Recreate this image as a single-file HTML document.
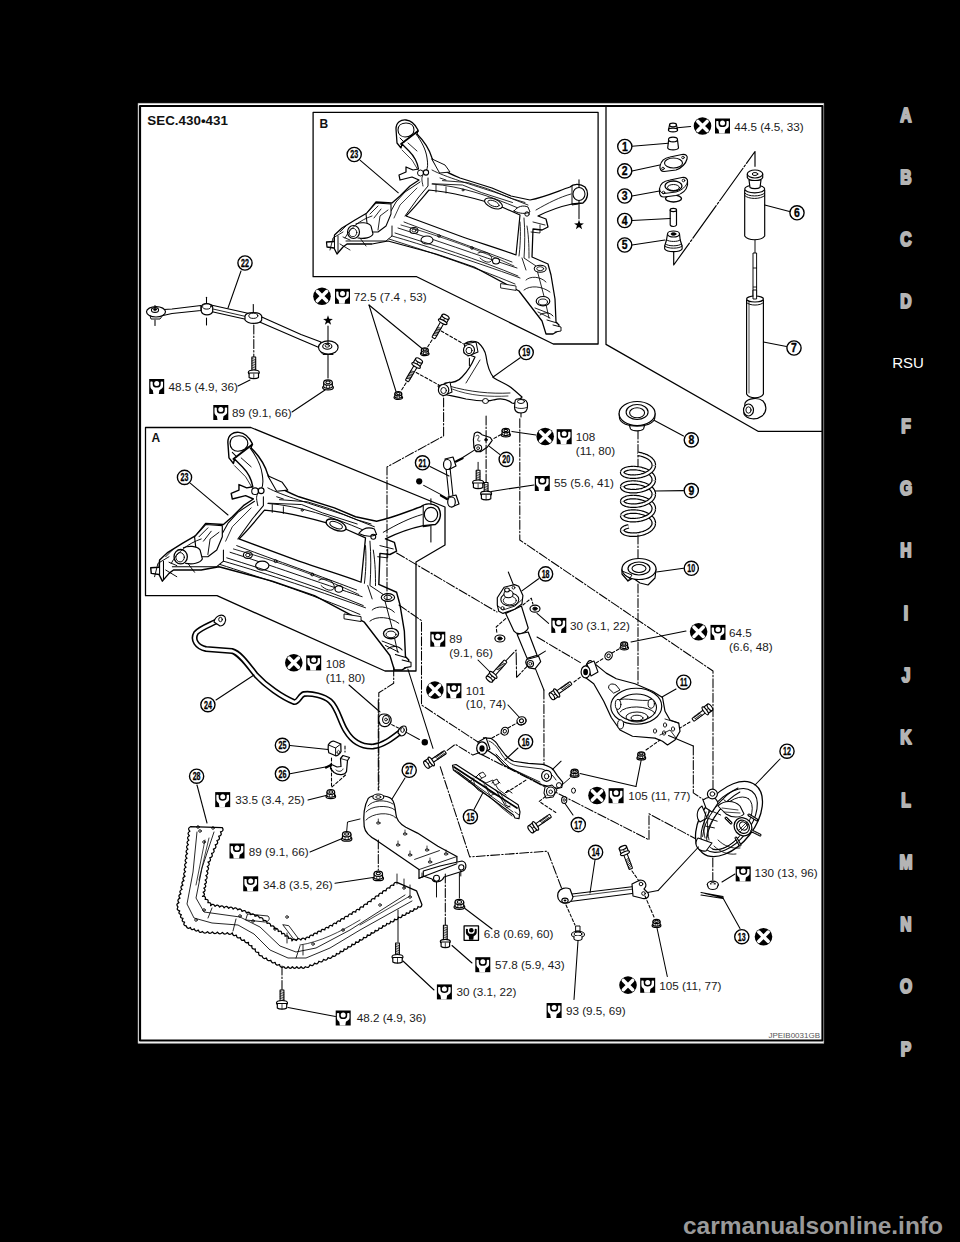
<!DOCTYPE html>
<html><head><meta charset="utf-8"><style>
html,body{margin:0;padding:0;background:#000;width:960px;height:1242px;overflow:hidden}
svg{position:absolute;left:0;top:0}
.t{font-family:"Liberation Sans",sans-serif;font-size:11.7px;fill:#1a1a1a;stroke:none}
.cn{font-family:"Liberation Sans",sans-serif;font-size:12.3px;font-weight:bold;text-anchor:middle;fill:#000;stroke:#000;stroke-width:0.35}
.cn2{font-family:"Liberation Sans",sans-serif;font-size:11.5px;font-weight:bold;text-anchor:middle;fill:#000;stroke:#000;stroke-width:0.3}
.idx{font-family:"Liberation Sans",sans-serif;font-size:20px;font-weight:bold;text-anchor:middle;fill:#b4b4b4;stroke:#b4b4b4;stroke-width:2.2}
</style></head><body>
<svg width="960" height="1242" viewBox="0 0 960 1242">
<defs>
<g id="xi"><circle r="8.8" fill="#000" stroke="none"/><path d="M-4.6,-4.6 L4.6,4.6 M4.6,-4.6 L-4.6,4.6" stroke="#fff" stroke-width="3.6" stroke-linecap="round"/></g>
<g id="wr"><rect x="0" y="0" width="15" height="15" fill="#000" stroke="none"/><path fill="#fff" stroke="none" d="M1.2,3.2 C1.2,2.4 3.5,2.4 3.5,3.2 L3.5,5.2 C3.5,7.9 5.3,8.6 7.5,8.6 C9.7,8.6 11.5,7.9 11.5,5.2 L11.5,3.2 C11.5,2.4 13.8,2.4 13.8,3.2 L13.8,7.2 C13.8,9.6 11.2,10.2 10.2,11.2 L9.6,15 L4.2,15 L3.6,11.2 C2.6,10.2 1.2,9.4 1.2,7.2 Z"/><circle cx="7.5" cy="4.6" r="2.5" fill="#fff" stroke="none"/></g>
<g id="wrf"><rect x="0.6" y="0.6" width="14.4" height="14.4" fill="#fff" stroke="#000" stroke-width="1.3"/><path fill="#000" stroke="none" d="M2.4,4 C2.4,3.3 4.4,3.3 4.4,4 L4.4,5.6 C4.4,7.8 5.8,8.4 7.8,8.4 C9.8,8.4 11.2,7.8 11.2,5.6 L11.2,4 C11.2,3.3 13.2,3.3 13.2,4 L13.2,7.4 C13.2,9.4 11,10 10.2,11 L9.8,14.4 L5.6,14.4 L5.2,11 C4.4,10 2.4,9.4 2.4,7.4 Z"/><circle cx="7.8" cy="4.9" r="2.3" fill="#000" stroke="none"/></g>
</defs>
<g stroke="#000" stroke-linejoin="round" stroke-linecap="round">
<rect x="138" y="103" width="686" height="940.5" fill="#fff" stroke="none"/>
<rect x="140" y="106" width="682.5" height="934.5" fill="none" stroke="#000" stroke-width="2.2"/>
<rect x="138.3" y="103.3" width="685.5" height="940" fill="none" stroke="#777" stroke-width="0.6"/>
<text x="906" y="121.6" class="idx" transform="translate(906,0) scale(0.78,1) translate(-906,0)">A</text>
<text x="906" y="183.9" class="idx" transform="translate(906,0) scale(0.78,1) translate(-906,0)">B</text>
<text x="906" y="246.1" class="idx" transform="translate(906,0) scale(0.78,1) translate(-906,0)">C</text>
<text x="906" y="308.4" class="idx" transform="translate(906,0) scale(0.78,1) translate(-906,0)">D</text>
<text x="908" y="367.9" style="font-family:'Liberation Sans',sans-serif;font-size:15px;fill:#fff;stroke:none;text-anchor:middle">RSU</text>
<text x="906" y="432.9" class="idx" transform="translate(906,0) scale(0.78,1) translate(-906,0)">F</text>
<text x="906" y="495.2" class="idx" transform="translate(906,0) scale(0.78,1) translate(-906,0)">G</text>
<text x="906" y="557.5" class="idx" transform="translate(906,0) scale(0.78,1) translate(-906,0)">H</text>
<text x="906" y="619.8" class="idx" transform="translate(906,0) scale(0.78,1) translate(-906,0)">I</text>
<text x="906" y="682" class="idx" transform="translate(906,0) scale(0.78,1) translate(-906,0)">J</text>
<text x="906" y="744.3" class="idx" transform="translate(906,0) scale(0.78,1) translate(-906,0)">K</text>
<text x="906" y="806.6" class="idx" transform="translate(906,0) scale(0.78,1) translate(-906,0)">L</text>
<text x="906" y="868.8" class="idx" transform="translate(906,0) scale(0.78,1) translate(-906,0)">M</text>
<text x="906" y="931.1" class="idx" transform="translate(906,0) scale(0.78,1) translate(-906,0)">N</text>
<text x="906" y="993.4" class="idx" transform="translate(906,0) scale(0.78,1) translate(-906,0)">O</text>
<text x="906" y="1055.7" class="idx" transform="translate(906,0) scale(0.78,1) translate(-906,0)">P</text>
<text x="943" y="1234" style="font-family:'Liberation Sans',sans-serif;font-size:24.5px;font-weight:bold;fill:#9a9a9a;stroke:none;text-anchor:end">carmanualsonline.info</text>
<text x="147.3" y="124.6" style="font-family:'Liberation Sans',sans-serif;font-size:13.4px;font-weight:bold;fill:#111;stroke:none">SEC.430•431</text>
<text x="820" y="1038" style="font-family:'Liberation Sans',sans-serif;font-size:8px;fill:#555;stroke:none;text-anchor:end">JPEIB0031GB</text>
<polyline points="313.1,112.3 598.1,112.3 598.1,344 553.3,344 416.7,276.7 313.1,276.7 313.1,112.3" fill="none" stroke-width="1.27" />
<polyline points="606,107 606,344.4 758,431.3 822,431.3" fill="none" stroke-width="1.27" />
<polyline points="145.5,427.5 250.8,427.5 445,507 445,545 416,562 416,671 385,671 217,595.7 145.5,595.7 145.5,427.5" fill="none" stroke-width="1.27" />
<text x="319.6" y="128.3" style="font-family:'Liberation Sans',sans-serif;font-size:12px;font-weight:bold;fill:#111;stroke:none">B</text>
<text x="151.4" y="442.2" style="font-family:'Liberation Sans',sans-serif;font-size:12px;font-weight:bold;fill:#111;stroke:none">A</text>
<g><path d="M396,129 C396,122 401,119.5 406,120 C411,120.5 415,124 418,130 L417,134 C423,140 429,148 432,158 C435,166 443,171 460,178 L492,188 L511,196 L530,200 C545,197 558,191 570,187 C573,184 580,183 585,187 C589,192 588,199 583,203 L572,204 C558,207 546,212 538,216 L546,219 L548,227 L542,230 L533,229 L532,257 L548,264 L551,275 L555,299 L556,322 L559,325 L558,331 L553,334 L546,334 L542,321 L519,291 L474,267 L436,254 L388,241 L372,244 L347,244 L343,247 L337,254 L334,248 L327,247 L326.5,242 L334,241.5 L334.5,235 L342,228 L355,220 L367,213 L376,202 L392,203 L400,196 L410,186 L419,180 L412,177 L400,180 L399,175 L406,172 L406,167 L413,170 L418.5,169 C417,160 413,155 409,151 L402,144 L401,148 L397,143 Z" fill="#fff" stroke-width="1.27"/><path d="M429,190 C450,192 480,199 502,207 L520,215 L516,255 C500,249 480,243 460,236 L406,216 C415,207 423,197 429,190 Z" fill="#fff" stroke-width="1.17"/><path d="M398,130 C398,125 402,123 406,123 C411,123 414,126 414,130 C414,134 410,137 405,137 C401,137 398,134 398,130 Z" fill="#fff" stroke-width="1.06"/><path d="M401,144 L418,131" fill="none" stroke-width="1.70"/><path d="M400,138 L404,142" fill="none" stroke-width="0.95"/><path d="M416,134 C422,142 426,150 427,158 C428,164 428,168 426,171" fill="none" stroke-width="0.95"/><path d="M408,143 L417,151" fill="none" stroke-width="0.85"/><circle cx="426" cy="172.5" r="2.6" fill="#fff" stroke-width="1.06"/><circle cx="420.5" cy="173" r="3" fill="none" stroke-width="0.95"/><path d="M428,178 L428,186 L418,198 L405,216" fill="none" stroke-width="0.95"/><path d="M420,182 L405,192 L396,202 L391,211" fill="none" stroke-width="0.95"/><path d="M423,186 C422,181 421,178 423,175" fill="none" stroke-width="0.85"/><path d="M432,170 C445,177 470,184 500,194 L528,205" fill="none" stroke-width="0.85"/><path d="M440,178 L446,180" fill="none" stroke-width="0.85"/><path d="M432,184 C460,186 490,196 518,208" fill="none" stroke-width="0.85"/><path d="M436,185 L436,192 M446,187 L446,193" fill="none" stroke-width="0.85"/><ellipse cx="493.5" cy="203.5" rx="9.5" ry="4.5" transform="rotate(22 493.5 203.5)" fill="#fff" stroke-width="1.17"/><ellipse cx="493.5" cy="203.5" rx="6" ry="2.6" transform="rotate(22 493.5 203.5)" fill="none" stroke-width="0.85"/><circle cx="463" cy="190" r="1" fill="none" stroke-width="0.85"/><path d="M432,159 L445,165 L450,172 L440,173 Z" fill="#fff" stroke-width="0.95"/><path d="M514,211 C518,206 523,205 528,207 L530,212 C526,214 520,214 514,211 Z" fill="#fff" stroke-width="0.95"/><circle cx="527" cy="214" r="2.2" fill="none" stroke-width="0.95"/><path d="M536,210 C548,203 560,197 571,194" fill="none" stroke-width="0.85"/><ellipse cx="579" cy="194" rx="6" ry="6.5" fill="#fff" stroke-width="1.06"/><path d="M572,186 L572,205 L578,204" fill="none" stroke-width="0.95"/><path d="M524,218 C525,230 525,245 524,258 L536,266 L545,300 L549,318" fill="none" stroke-width="0.85"/><path d="M522,258 L526,270" fill="none" stroke-width="0.85"/><path d="M540,315 C544,312 550,312 553,316 M547,320 L557,323" fill="none" stroke-width="0.95"/><path d="M553,325 L561,327 L561,331 L555,332" fill="#fff" stroke-width="0.95"/><path d="M404,222 C430,232 470,246 512,262" fill="none" stroke-width="0.85"/><path d="M398,228 C430,238 480,256 517,268" fill="none" stroke-width="0.85"/><path d="M392,236 C420,244 470,260 520,278" fill="none" stroke-width="0.85"/><ellipse cx="414" cy="230.5" rx="4" ry="3" fill="#fff" stroke-width="1.06"/><ellipse cx="414" cy="230.5" rx="2" ry="1.5" fill="none" stroke-width="0.85"/><ellipse cx="427" cy="240" rx="6" ry="4" fill="#fff" stroke-width="1.06"/><circle cx="439" cy="236" r="1.3" fill="none" stroke-width="0.85"/><circle cx="472" cy="248" r="1.3" fill="none" stroke-width="0.85"/><path d="M478,253 C485,250 492,254 492,260 C490,264 484,262 480,258" fill="none" stroke-width="0.85"/><ellipse cx="496" cy="261" rx="3.5" ry="3" fill="#fff" stroke-width="1.06"/><path d="M366,214 L376,203 L391,204 L391,214 L386,226 L378,232 L368,232 Z" fill="#fff" stroke-width="1.06"/><path d="M370,214 L378,206 M374,218 L381,209 M378,230 L380,216 L388,210" fill="none" stroke-width="0.85"/><path d="M356,224 C360,222 368,222 371,226 L373,234 C371,238 364,239 358,238" fill="#fff" stroke-width="1.06"/><ellipse cx="353.5" cy="232" rx="6" ry="6.5" fill="#fff" stroke-width="1.17"/><ellipse cx="353" cy="232.5" rx="3.8" ry="4.2" fill="none" stroke-width="0.85"/><path d="M334.5,236 L334.5,248 M338,236 L338,252" fill="none" stroke-width="0.95"/><path d="M346,241 L386,241 L392,236 L392,226" fill="none" stroke-width="0.95"/><path d="M340,232 L346,226 M343,237 L350,240" fill="none" stroke-width="0.85"/><path d="M442.5,180.6 L467.5,182.5 L487.5,188.75 L512.5,198.75 L525,202.5" fill="none" stroke-width="0.85"/><path d="M432.5,183.75 L462.5,185 L481.25,192.5 L512.5,202.5" fill="none" stroke-width="0.85"/><path d="M395,233 C430,244 480,260 518,276" fill="none" stroke-width="0.85"/><path d="M389,239 C420,249 470,265 515,284" fill="none" stroke-width="0.85"/><path d="M401,225 C440,236 480,250 514,266" fill="none" stroke-width="0.74"/><path d="M520,222 C521,235 520,248 519,256 M527,226 C529,238 529,250 529,258" fill="none" stroke-width="0.85"/><path d="M533,222 L545,225 M531,232 L540,233 L540,225" fill="none" stroke-width="0.85"/><ellipse cx="540.2" cy="268.7" rx="6" ry="3.5" fill="#fff" stroke-width="1.06"/><ellipse cx="540.2" cy="268.7" rx="3.5" ry="2" fill="none" stroke-width="0.85"/><path d="M526,280 C530,276 540,276 546,282 M524,290 C530,285 542,286 550,292" fill="none" stroke-width="0.85"/><ellipse cx="543" cy="301.2" rx="6.8" ry="4.7" fill="#fff" stroke-width="1.17"/><ellipse cx="543" cy="302" rx="4.5" ry="3" fill="none" stroke-width="0.85"/><path d="M535,308 L548,313 M538,312 L550,318" fill="none" stroke-width="0.85"/><path d="M501,283.6 L516,286 L516,290.4 L501,288 Z" fill="#fff" stroke-width="0.85"/><path d="M345,238 C350,228 360,220 372,216 M340,244 L350,250 M360,238 L366,246" fill="none" stroke-width="0.85"/><path d="M330,250 L333,238 L343,232" fill="none" stroke-width="0.85"/><path d="M402,150 L412,160 L418,170" fill="none" stroke-width="0.74"/><path d="M417,188 L400,205 L394,218" fill="none" stroke-width="0.74"/></g>
<line x1="360.3" y1="160.3" x2="398.3" y2="192.8" stroke-width="1.06" />
<line x1="190.5" y1="483.3" x2="228" y2="515" stroke-width="1.06" />
<line x1="430.9" y1="498.8" x2="430.9" y2="507" stroke-width="1.06" />
<line x1="430.9" y1="522.3" x2="430.9" y2="542" stroke-width="1.06" />
<g transform="translate(-211.7,299.2) scale(1.11)"><path d="M396,129 C396,122 401,119.5 406,120 C411,120.5 415,124 418,130 L417,134 C423,140 429,148 432,158 C435,166 443,171 460,178 L492,188 L511,196 L530,200 C545,197 558,191 570,187 C573,184 580,183 585,187 C589,192 588,199 583,203 L572,204 C558,207 546,212 538,216 L546,219 L548,227 L542,230 L533,229 L532,257 L548,264 L551,275 L555,299 L556,322 L559,325 L558,331 L553,334 L546,334 L542,321 L519,291 L474,267 L436,254 L388,241 L372,244 L347,244 L343,247 L337,254 L334,248 L327,247 L326.5,242 L334,241.5 L334.5,235 L342,228 L355,220 L367,213 L376,202 L392,203 L400,196 L410,186 L419,180 L412,177 L400,180 L399,175 L406,172 L406,167 L413,170 L418.5,169 C417,160 413,155 409,151 L402,144 L401,148 L397,143 Z" fill="#fff" stroke-width="1.27"/><path d="M429,190 C450,192 480,199 502,207 L520,215 L516,255 C500,249 480,243 460,236 L406,216 C415,207 423,197 429,190 Z" fill="#fff" stroke-width="1.17"/><path d="M398,130 C398,125 402,123 406,123 C411,123 414,126 414,130 C414,134 410,137 405,137 C401,137 398,134 398,130 Z" fill="#fff" stroke-width="1.06"/><path d="M401,144 L418,131" fill="none" stroke-width="1.70"/><path d="M400,138 L404,142" fill="none" stroke-width="0.95"/><path d="M416,134 C422,142 426,150 427,158 C428,164 428,168 426,171" fill="none" stroke-width="0.95"/><path d="M408,143 L417,151" fill="none" stroke-width="0.85"/><circle cx="426" cy="172.5" r="2.6" fill="#fff" stroke-width="1.06"/><circle cx="420.5" cy="173" r="3" fill="none" stroke-width="0.95"/><path d="M428,178 L428,186 L418,198 L405,216" fill="none" stroke-width="0.95"/><path d="M420,182 L405,192 L396,202 L391,211" fill="none" stroke-width="0.95"/><path d="M423,186 C422,181 421,178 423,175" fill="none" stroke-width="0.85"/><path d="M432,170 C445,177 470,184 500,194 L528,205" fill="none" stroke-width="0.85"/><path d="M440,178 L446,180" fill="none" stroke-width="0.85"/><path d="M432,184 C460,186 490,196 518,208" fill="none" stroke-width="0.85"/><path d="M436,185 L436,192 M446,187 L446,193" fill="none" stroke-width="0.85"/><ellipse cx="493.5" cy="203.5" rx="9.5" ry="4.5" transform="rotate(22 493.5 203.5)" fill="#fff" stroke-width="1.17"/><ellipse cx="493.5" cy="203.5" rx="6" ry="2.6" transform="rotate(22 493.5 203.5)" fill="none" stroke-width="0.85"/><circle cx="463" cy="190" r="1" fill="none" stroke-width="0.85"/><path d="M432,159 L445,165 L450,172 L440,173 Z" fill="#fff" stroke-width="0.95"/><path d="M514,211 C518,206 523,205 528,207 L530,212 C526,214 520,214 514,211 Z" fill="#fff" stroke-width="0.95"/><circle cx="527" cy="214" r="2.2" fill="none" stroke-width="0.95"/><path d="M536,210 C548,203 560,197 571,194" fill="none" stroke-width="0.85"/><ellipse cx="579" cy="194" rx="6" ry="6.5" fill="#fff" stroke-width="1.06"/><path d="M572,186 L572,205 L578,204" fill="none" stroke-width="0.95"/><path d="M524,218 C525,230 525,245 524,258 L536,266 L545,300 L549,318" fill="none" stroke-width="0.85"/><path d="M522,258 L526,270" fill="none" stroke-width="0.85"/><path d="M540,315 C544,312 550,312 553,316 M547,320 L557,323" fill="none" stroke-width="0.95"/><path d="M553,325 L561,327 L561,331 L555,332" fill="#fff" stroke-width="0.95"/><path d="M404,222 C430,232 470,246 512,262" fill="none" stroke-width="0.85"/><path d="M398,228 C430,238 480,256 517,268" fill="none" stroke-width="0.85"/><path d="M392,236 C420,244 470,260 520,278" fill="none" stroke-width="0.85"/><ellipse cx="414" cy="230.5" rx="4" ry="3" fill="#fff" stroke-width="1.06"/><ellipse cx="414" cy="230.5" rx="2" ry="1.5" fill="none" stroke-width="0.85"/><ellipse cx="427" cy="240" rx="6" ry="4" fill="#fff" stroke-width="1.06"/><circle cx="439" cy="236" r="1.3" fill="none" stroke-width="0.85"/><circle cx="472" cy="248" r="1.3" fill="none" stroke-width="0.85"/><path d="M478,253 C485,250 492,254 492,260 C490,264 484,262 480,258" fill="none" stroke-width="0.85"/><ellipse cx="496" cy="261" rx="3.5" ry="3" fill="#fff" stroke-width="1.06"/><path d="M366,214 L376,203 L391,204 L391,214 L386,226 L378,232 L368,232 Z" fill="#fff" stroke-width="1.06"/><path d="M370,214 L378,206 M374,218 L381,209 M378,230 L380,216 L388,210" fill="none" stroke-width="0.85"/><path d="M356,224 C360,222 368,222 371,226 L373,234 C371,238 364,239 358,238" fill="#fff" stroke-width="1.06"/><ellipse cx="353.5" cy="232" rx="6" ry="6.5" fill="#fff" stroke-width="1.17"/><ellipse cx="353" cy="232.5" rx="3.8" ry="4.2" fill="none" stroke-width="0.85"/><path d="M334.5,236 L334.5,248 M338,236 L338,252" fill="none" stroke-width="0.95"/><path d="M346,241 L386,241 L392,236 L392,226" fill="none" stroke-width="0.95"/><path d="M340,232 L346,226 M343,237 L350,240" fill="none" stroke-width="0.85"/><path d="M442.5,180.6 L467.5,182.5 L487.5,188.75 L512.5,198.75 L525,202.5" fill="none" stroke-width="0.85"/><path d="M432.5,183.75 L462.5,185 L481.25,192.5 L512.5,202.5" fill="none" stroke-width="0.85"/><path d="M395,233 C430,244 480,260 518,276" fill="none" stroke-width="0.85"/><path d="M389,239 C420,249 470,265 515,284" fill="none" stroke-width="0.85"/><path d="M401,225 C440,236 480,250 514,266" fill="none" stroke-width="0.74"/><path d="M520,222 C521,235 520,248 519,256 M527,226 C529,238 529,250 529,258" fill="none" stroke-width="0.85"/><path d="M533,222 L545,225 M531,232 L540,233 L540,225" fill="none" stroke-width="0.85"/><ellipse cx="540.2" cy="268.7" rx="6" ry="3.5" fill="#fff" stroke-width="1.06"/><ellipse cx="540.2" cy="268.7" rx="3.5" ry="2" fill="none" stroke-width="0.85"/><path d="M526,280 C530,276 540,276 546,282 M524,290 C530,285 542,286 550,292" fill="none" stroke-width="0.85"/><ellipse cx="543" cy="301.2" rx="6.8" ry="4.7" fill="#fff" stroke-width="1.17"/><ellipse cx="543" cy="302" rx="4.5" ry="3" fill="none" stroke-width="0.85"/><path d="M535,308 L548,313 M538,312 L550,318" fill="none" stroke-width="0.85"/><path d="M501,283.6 L516,286 L516,290.4 L501,288 Z" fill="#fff" stroke-width="0.85"/><path d="M345,238 C350,228 360,220 372,216 M340,244 L350,250 M360,238 L366,246" fill="none" stroke-width="0.85"/><path d="M330,250 L333,238 L343,232" fill="none" stroke-width="0.85"/><path d="M402,150 L412,160 L418,170" fill="none" stroke-width="0.74"/><path d="M417,188 L400,205 L394,218" fill="none" stroke-width="0.74"/></g>
<path d="M669.5,125 L676.5,125 L677.5,130 L668.5,130 Z" fill="#fff" stroke-width="1.17"/>
<ellipse cx="673" cy="125" rx="3.5" ry="1.8" fill="#fff" stroke-width="1.17"/>
<ellipse cx="673" cy="130" rx="4.6" ry="1.8" fill="#fff" stroke-width="1.17"/>
<line x1="677.3" y1="127.7" x2="690.6" y2="126.5" stroke-width="1.06" />
<path d="M668.6,140 L667.7,148 C669,150.5 677,150.5 678.5,148 L677.5,140 Z" fill="#fff" stroke-width="1.17"/>
<ellipse cx="673" cy="139.5" rx="4.5" ry="2.4" fill="#fff" stroke-width="1.17"/>
<line x1="632" y1="146.2" x2="668.3" y2="143.3" stroke-width="1.06" />
<path d="M660,166 C661,161 664,158 670,157 L682,154.5 C686,154 688,156 687,159 C686,163 682,168 676,170 L664,171.5 C661,171.5 659.5,169 660,166 Z" fill="#fff" stroke-width="1.17"/>
<ellipse cx="673.5" cy="163" rx="9" ry="5" fill="none" stroke-width="1.06"/>
<circle cx="683" cy="157.5" r="1.3" fill="none" stroke-width="0.85"/><circle cx="663" cy="168.5" r="1.3" fill="none" stroke-width="0.85"/>
<line x1="632" y1="170.9" x2="659.8" y2="165" stroke-width="1.06" />
<ellipse cx="673.5" cy="198.5" rx="8" ry="3.5" fill="#fff" stroke-width="1.38"/>
<path d="M659.5,189 C660,184 663,181 670,180 L682,177.5 C686,177 688,179 687.5,182 L687.5,185 C686.5,190 682,194 676,195.5 L664,197 C661,197 659.5,195 659.5,192 Z" fill="#fff" stroke-width="1.17"/>
<path d="M659.5,189 C660,192 662,193.5 664,193.5 L676,192 C682,190.5 686.5,186 687.5,182" fill="none" stroke-width="0.95"/>
<ellipse cx="673.5" cy="186" rx="8.5" ry="5" fill="#fff" stroke-width="1.27"/>
<ellipse cx="673.5" cy="187.5" rx="6" ry="3" fill="none" stroke-width="0.95"/>
<circle cx="683.5" cy="180.5" r="1.3" fill="none" stroke-width="0.85"/><circle cx="663.5" cy="192.5" r="1.3" fill="none" stroke-width="0.85"/>
<line x1="632" y1="196" x2="659.5" y2="191" stroke-width="1.06" />
<path d="M670.2,210 L670.2,225 C671,227 675.5,227 676.5,225 L676.5,210" fill="#fff" stroke-width="1.17"/>
<ellipse cx="673.35" cy="210" rx="3.2" ry="1.6" fill="#fff" stroke-width="1.17"/>
<line x1="632" y1="220.5" x2="670.2" y2="218.5" stroke-width="1.06" />
<path d="M667.5,234 L666.5,240 L664.7,246 L664.7,249 C667,252.5 680,252.5 682.1,249 L682.1,246 L680.2,240 L679.5,234 Z" fill="#fff" stroke-width="1.17"/>
<path d="M666.7,240 C669,242 678,242 680.2,240 M665.5,244 C668,246.5 679,246.5 681.3,244 M664.7,246 C667,249 680,249 682.1,246" fill="none" stroke-width="0.95"/>
<ellipse cx="673.5" cy="234" rx="6" ry="3" fill="#fff" stroke-width="1.17"/>
<ellipse cx="673.5" cy="234" rx="2.5" ry="1.3" fill="#000" stroke-width="0.85"/>
<line x1="632" y1="245" x2="665" y2="240" stroke-width="1.06" />
<polyline points="673.7,252 673.7,265 755,151.5 755,166.3" fill="none" stroke-width="1.17" stroke-dasharray="40 2 2 2"/>
<path d="M744.7,190 L744.7,236 C748,241 761,241 764.7,236 L764.7,190 Z" fill="#fff" stroke-width="1.17"/>
<path d="M744.7,193 C748,197 761,197 764.7,193 M744.7,195.5 C748,199.5 761,199.5 764.7,195.5" fill="none" stroke-width="0.95"/>
<ellipse cx="754.7" cy="189" rx="10" ry="3.8" fill="#fff" stroke-width="1.17"/>
<path d="M749,180 L750,187.5 C752,189 758,189 760,187.5 L761,180 Z" fill="#fff" stroke-width="1.17"/>
<path d="M747.3,174 L747.3,177.5 C749,181.5 761,181.5 762.7,177.5 L762.7,174 Z" fill="#fff" stroke-width="1.17"/>
<ellipse cx="755" cy="174" rx="7.7" ry="4" fill="#fff" stroke-width="1.17"/>
<ellipse cx="755" cy="174" rx="2.8" ry="1.5" fill="none" stroke-width="0.95"/>
<line x1="764.7" y1="205" x2="789.5" y2="211.5" stroke-width="1.06" />
<line x1="755" y1="240" x2="755" y2="253" stroke-width="0.95" />
<rect x="753.4" y="253" width="3.2" height="44" fill="#fff" stroke-width="0.95"/>
<line x1="753.4" y1="268" x2="756.6" y2="268" stroke-width="0.85" />
<line x1="753.4" y1="287" x2="756.6" y2="287" stroke-width="0.85" />
<path d="M746.6,300 L746.6,394 C749,399 761,399 763.4,394 L763.4,300 Z" fill="#fff" stroke-width="1.17"/>
<line x1="749" y1="302" x2="749" y2="393" stroke-width="0.74" />
<ellipse cx="755" cy="299" rx="8.4" ry="3" fill="#fff" stroke-width="1.17"/>
<rect x="753.4" y="290" width="3.2" height="9" fill="#fff" stroke-width="0.95"/>
<path d="M746.6,302.5 C749,306 761,306 763.4,302.5" fill="none" stroke-width="0.95"/>
<path d="M745,403 C748,398 758,397 763,401 C767,405 767,412 762,416 C757,420 747,420 744,414 Z" fill="#fff" stroke-width="1.17"/>
<ellipse cx="748.5" cy="410" rx="5" ry="6" fill="#fff" stroke-width="1.17"/>
<ellipse cx="748.5" cy="410" rx="2.6" ry="3.2" fill="none" stroke-width="0.95"/>
<line x1="763.4" y1="342" x2="786.5" y2="346.5" stroke-width="1.06" />
<line x1="155" y1="305.6" x2="155" y2="309" stroke-width="1.06" />
<line x1="155" y1="320" x2="155" y2="325.4" stroke-width="1.06" />
<line x1="206.5" y1="297.3" x2="206.5" y2="304.6" stroke-width="1.06" />
<line x1="206.5" y1="318" x2="206.5" y2="325" stroke-width="1.06" />
<line x1="253.3" y1="304.6" x2="253.3" y2="313" stroke-width="1.06" />
<path d="M164,309.5 L172,309 L201,305.5 L201,310.5 L172,313.5 L163,315.5 Z" fill="#fff" stroke-width="1.17"/>
<path d="M211,305 L249,313.5 L249,320 L211,311.5 Z" fill="#fff" stroke-width="1.17"/>
<line x1="213" y1="309" x2="248" y2="317" stroke-width="0.85" />
<path d="M260.6,316.5 L301,334.5 L321,342 L319,347.5 L299,339 L258.5,321.5 Z" fill="#fff" stroke-width="1.17"/>
<ellipse cx="156" cy="311.8" rx="9.5" ry="5.2" fill="#fff" stroke-width="1.17"/>
<path d="M150,315.5 L151,319 L160,319 L163,315" fill="none" stroke-width="0.95"/>
<ellipse cx="155" cy="310" rx="3.6" ry="2.4" fill="#fff" stroke-width="1.06"/>
<ellipse cx="155" cy="309.5" rx="1.6" ry="1" fill="#000" stroke-width="0.64"/>
<path d="M201.3,307 C202,302.5 211,302.5 212.7,307 L212.7,311.5 C211,316 203,316 201.3,311.5 Z" fill="#fff" stroke-width="1.17"/>
<ellipse cx="206.8" cy="306.5" rx="4.2" ry="2.6" fill="#fff" stroke-width="0.95"/>
<path d="M245,316 C246,311.5 260,311.5 261.7,316 L261.7,320 C260,324.5 248,324.5 245,320 Z" fill="#fff" stroke-width="1.17"/>
<ellipse cx="253.3" cy="315.8" rx="4.5" ry="2.6" fill="#fff" stroke-width="0.95"/>
<ellipse cx="328.3" cy="347.5" rx="9.8" ry="6.6" fill="#fff" stroke-width="1.17"/>
<ellipse cx="327.3" cy="346.3" rx="4.6" ry="3" fill="#fff" stroke-width="1.06"/>
<ellipse cx="327.3" cy="345.8" rx="2.2" ry="1.4" fill="none" stroke-width="0.85"/>
<path d="M320,351 L323,354.5 L333,354.5" fill="none" stroke-width="0.95"/>
<polygon points="328,315.3 329.2,318.8 332.9,318.9 330,321.1 331.1,324.7 328,322.6 324.9,324.7 326,321.1 323.1,318.9 326.8,318.8" fill="#000" stroke="none"/>
<line x1="328" y1="326" x2="328" y2="345" stroke-width="1.06" />
<polygon points="579,219.8 580.2,223.3 583.9,223.4 581,225.6 582.1,229.2 579,227.1 575.9,229.2 577,225.6 574.1,223.4 577.8,223.3" fill="#000" stroke="none"/>
<line x1="579" y1="179.8" x2="579" y2="187" stroke-width="1.06" />
<line x1="579" y1="201" x2="579" y2="218.8" stroke-width="1.06" />
<line x1="328" y1="355" x2="328" y2="378" stroke-width="1.06" />
<polyline points="253.8,325 253.8,357" fill="none" stroke-width="1.06" stroke-dasharray="9 2 1.5 2"/>
<line x1="228" y1="308" x2="241" y2="271" stroke-width="1.06" />
<line x1="238" y1="386" x2="250" y2="380" stroke-width="1.06" />
<line x1="292" y1="412" x2="325" y2="390" stroke-width="1.06" />
<path d="M465,343.5 C468,341 474,340.5 478,342.5 C482,346 485,350 486,356 C487,364 489,372 494,378 C500,382 508,384 514,390 L522,397 C518,402 514,404 512,403 C507,399 500,398 494,399.8 C488,402 478,401 466,399 C458,397 452,396 447,395 L440,392 L445,383 C452,383 458,382 462,377 C468,371 472,364 475,357 L464,353 Z" fill="#fff" stroke-width="1.22"/>
<path d="M449,386 C470,392 490,394 510,393" fill="none" stroke-width="0.85"/>
<path d="M452,389 C470,396 490,397 508,396" fill="none" stroke-width="0.74"/>
<line x1="480" y1="360" x2="466" y2="383" stroke-width="0.85" />
<path d="M464,344 L476,342 L478,352 L468,356 Z" fill="#fff" stroke-width="1.06"/>
<ellipse cx="469" cy="350" rx="5.5" ry="5.5" fill="#fff" stroke-width="1.17"/>
<ellipse cx="469" cy="350.5" rx="3" ry="3.2" fill="none" stroke-width="0.95"/>
<path d="M438,386 L450,382 L452,392 L443,396 Z" fill="#fff" stroke-width="1.06"/>
<ellipse cx="443.6" cy="390" rx="5.2" ry="5.5" fill="#fff" stroke-width="1.17"/>
<ellipse cx="443.6" cy="390.5" rx="2.8" ry="3" fill="none" stroke-width="0.95"/>
<ellipse cx="485.5" cy="401" rx="3" ry="2.5" fill="#fff" stroke-width="0.95"/>
<path d="M515,402 C515,398 518,399 521,399 C525,399 528,401 527.5,406 C527.5,411 525,413 521,413 C517,413 514.5,411 514.5,407 Z" fill="#fff" stroke-width="1.17"/>
<ellipse cx="521" cy="401.5" rx="3.5" ry="2" fill="none" stroke-width="0.95"/>
<path d="M515,407 C517,409 525,409 527.5,407" fill="none" stroke-width="0.85"/>
<line x1="521" y1="413" x2="521" y2="417" stroke-width="1.06" />
<line x1="469.4" y1="358.4" x2="469.4" y2="365.5" stroke-width="1.06" />
<g transform="translate(443.6,320.2) rotate(119.8)"><rect x="0" y="-1.8" width="20.5" height="3.6" rx="0.8" fill="#fff" stroke-width="1.06"/><line x1="8.2" y1="-1.8" x2="9.6" y2="1.8" stroke-width="0.74"/><line x1="9.9" y1="-1.8" x2="11.3" y2="1.8" stroke-width="0.74"/><line x1="11.6" y1="-1.8" x2="13" y2="1.8" stroke-width="0.74"/><line x1="13.3" y1="-1.8" x2="14.7" y2="1.8" stroke-width="0.74"/><line x1="15" y1="-1.8" x2="16.4" y2="1.8" stroke-width="0.74"/><line x1="16.7" y1="-1.8" x2="18.1" y2="1.8" stroke-width="0.74"/><rect x="-4" y="-3.9" width="5" height="7.8" fill="#fff" stroke-width="1.17"/><line x1="-4" y1="0" x2="1" y2="0" stroke-width="0.74"/><ellipse cx="-4" cy="0" rx="1.8" ry="3.9" fill="#fff" stroke-width="1.17"/><ellipse cx="1.8" cy="0" rx="1.6" ry="4.8" fill="#fff" stroke-width="1.17"/></g>
<g transform="translate(417,363.9) rotate(120.6)"><rect x="0" y="-1.8" width="19.9" height="3.6" rx="0.8" fill="#fff" stroke-width="1.06"/><line x1="7.9" y1="-1.8" x2="9.3" y2="1.8" stroke-width="0.74"/><line x1="9.6" y1="-1.8" x2="11" y2="1.8" stroke-width="0.74"/><line x1="11.3" y1="-1.8" x2="12.7" y2="1.8" stroke-width="0.74"/><line x1="13" y1="-1.8" x2="14.4" y2="1.8" stroke-width="0.74"/><line x1="14.7" y1="-1.8" x2="16.1" y2="1.8" stroke-width="0.74"/><line x1="16.4" y1="-1.8" x2="17.8" y2="1.8" stroke-width="0.74"/><rect x="-4" y="-3.9" width="5" height="7.8" fill="#fff" stroke-width="1.17"/><line x1="-4" y1="0" x2="1" y2="0" stroke-width="0.74"/><ellipse cx="-4" cy="0" rx="1.8" ry="3.9" fill="#fff" stroke-width="1.17"/><ellipse cx="1.8" cy="0" rx="1.6" ry="4.8" fill="#fff" stroke-width="1.17"/></g>
<g transform="translate(424.8,351.4)"><ellipse cx="0" cy="2.4" rx="4.3" ry="1.9" fill="#fff" stroke-width="1.17"/><path d="M-3.4,-1.5 L3.4,-1.5 L3.4,2.1 C1.7,3.4 -1.7,3.4 -3.4,2.1 Z" fill="#fff" stroke-width="1.17"/><path d="M-1.3,-0.4 L-1.3,2.8 M1.3,-0.4 L1.3,2.8" stroke-width="0.74"/><ellipse cx="0" cy="-1.5" rx="3.4" ry="2.1" fill="#fff" stroke-width="1.17"/><ellipse cx="0" cy="-1.6" rx="1.7" ry="1.1" fill="none" stroke-width="1.06"/></g>
<g transform="translate(398.3,395.2)"><ellipse cx="0" cy="2.4" rx="4.3" ry="1.9" fill="#fff" stroke-width="1.17"/><path d="M-3.4,-1.5 L3.4,-1.5 L3.4,2.1 C1.7,3.4 -1.7,3.4 -3.4,2.1 Z" fill="#fff" stroke-width="1.17"/><path d="M-1.3,-0.4 L-1.3,2.8 M1.3,-0.4 L1.3,2.8" stroke-width="0.74"/><ellipse cx="0" cy="-1.5" rx="3.4" ry="2.1" fill="#fff" stroke-width="1.17"/><ellipse cx="0" cy="-1.6" rx="1.7" ry="1.1" fill="none" stroke-width="1.06"/></g>
<polyline points="441.2,331 463.1,343.6" fill="none" stroke-width="1.06" stroke-dasharray="3 2"/>
<polyline points="416.2,372.5 438.9,385" fill="none" stroke-width="1.06" stroke-dasharray="3 2"/>
<polyline points="432,340 427,348" fill="none" stroke-width="1.06" stroke-dasharray="3 2"/>
<polyline points="406,383 401,391" fill="none" stroke-width="1.06" stroke-dasharray="3 2"/>
<line x1="369" y1="305" x2="422" y2="348.5" stroke-width="1.06" />
<line x1="369" y1="305" x2="396" y2="391.5" stroke-width="1.06" />
<line x1="520.2" y1="357.7" x2="492.8" y2="377.2" stroke-width="1.06" />
<path d="M474.4,433.7 C476,431.5 479,431.5 481.9,434.7 L490.3,437.5 L492.2,440.3 L487.5,446.9 L480.9,451.6 L476.2,451.6 L473.9,447.8 L473.4,439.4 Z" fill="#fff" stroke-width="1.17"/>
<ellipse cx="478.1" cy="448" rx="3.6" ry="3.3" fill="#fff" stroke-width="1.06"/>
<circle cx="478.1" cy="448.2" r="1.4" fill="none" stroke-width="0.85"/>
<circle cx="486" cy="439.8" r="1.4" fill="#000" stroke-width="0.64"/>
<path d="M476,436 C478,434 480,436 478.5,438 C477,440 478,442 480,441" fill="none" stroke-width="0.85"/>
<g transform="translate(505.8,432.2)"><ellipse cx="0" cy="2.5" rx="4.6" ry="2.1" fill="#fff" stroke-width="1.17"/><path d="M-3.7,-1.6 L3.7,-1.6 L3.7,2.3 C1.8,3.7 -1.8,3.7 -3.7,2.3 Z" fill="#fff" stroke-width="1.17"/><path d="M-1.4,-0.5 L-1.4,3.0 M1.4,-0.5 L1.4,3.0" stroke-width="0.74"/><ellipse cx="0" cy="-1.6" rx="3.7" ry="2.3" fill="#fff" stroke-width="1.17"/><ellipse cx="0" cy="-1.7" rx="1.8" ry="1.1" fill="none" stroke-width="1.06"/></g>
<polyline points="494,438.4 500.6,434.7" fill="none" stroke-width="1.06" stroke-dasharray="3 2"/>
<line x1="511.9" y1="431.4" x2="536" y2="435" stroke-width="1.06" />
<line x1="489.4" y1="446.4" x2="499.7" y2="454.4" stroke-width="1.06" />
<rect x="447.5" y="468" width="4" height="29" fill="#fff" stroke-width="1.06" transform="rotate(-6 449.5 482)"/>
<path d="M445,459 L453,457 L456,466 L449,469.5 Z" fill="#fff" stroke-width="1.17"/>
<ellipse cx="447.3" cy="464.5" rx="3.8" ry="5" fill="#fff" stroke-width="1.17"/>
<path d="M456,461.5 L462.5,458.2" stroke-width="2.33"/>
<path d="M448,497 L456,495 L459,504 L451.5,507 Z" fill="#fff" stroke-width="1.17"/>
<ellipse cx="451.5" cy="502" rx="3.8" ry="5" fill="#fff" stroke-width="1.17"/>
<path d="M447,499 L441,495.5" stroke-width="2.33"/>
<line x1="463.1" y1="457.2" x2="474.4" y2="450.1" stroke-width="1.06" />
<circle cx="419.2" cy="481.3" r="3.1" fill="#000" stroke="none"/>
<line x1="423.7" y1="485.4" x2="440.6" y2="494.4" stroke-width="1.06" />
<line x1="449" y1="475.9" x2="430" y2="466.5" stroke-width="1.06" />
<rect x="476.2" y="470.3" width="3.8" height="12.2" fill="#fff" stroke-width="1.06"/>
<line x1="476.2" y1="471.8" x2="480" y2="473" stroke-width="0.69" />
<line x1="476.2" y1="473.5" x2="480" y2="474.7" stroke-width="0.69" />
<line x1="476.2" y1="475.2" x2="480" y2="476.4" stroke-width="0.69" />
<line x1="476.2" y1="476.9" x2="480" y2="478.1" stroke-width="0.69" />
<line x1="476.2" y1="478.6" x2="480" y2="479.8" stroke-width="0.69" />
<ellipse cx="478.1" cy="482.5" rx="5.5" ry="2.5" fill="#fff" stroke-width="1.17"/>
<path d="M473.4,483 L482.8,483 L482.8,487.5 C480.9,489 475.4,489 473.4,487.5 Z" fill="#fff" stroke-width="1.17"/>
<path d="M478.1,484 L478.1,488.5" stroke-width="0.74"/>
<line x1="478.1" y1="462.3" x2="478.1" y2="470" stroke-width="0.95" />
<rect x="484.2" y="482.5" width="3.8" height="11.2" fill="#fff" stroke-width="1.06"/>
<line x1="484.2" y1="484" x2="488" y2="485.2" stroke-width="0.69" />
<line x1="484.2" y1="485.7" x2="488" y2="486.9" stroke-width="0.69" />
<line x1="484.2" y1="487.4" x2="488" y2="488.6" stroke-width="0.69" />
<line x1="484.2" y1="489.1" x2="488" y2="490.3" stroke-width="0.69" />
<ellipse cx="486.1" cy="493.7" rx="5.5" ry="2.5" fill="#fff" stroke-width="1.17"/>
<path d="M481.4,494.2 L490.8,494.2 L490.8,498.7 C488.9,500.2 483.4,500.2 481.4,498.7 Z" fill="#fff" stroke-width="1.17"/>
<path d="M486.1,495.2 L486.1,499.7" stroke-width="0.74"/>
<polyline points="486.1,416 486.1,482" fill="none" stroke-width="1.06" stroke-dasharray="9 2 1.5 2"/>
<line x1="491.2" y1="491.4" x2="534" y2="485" stroke-width="1.06" />
<polyline points="519.8,418.7 519.8,540 713,671 713,794" fill="none" stroke-width="1.06" stroke-dasharray="9 2 1.5 2"/>
<polyline points="638,430 638,470" fill="none" stroke-width="1.06" stroke-dasharray="9 2 1.5 2"/>
<path d="M638.0,453.9 L639.2,454.1 L640.4,454.3 L641.6,454.6 L642.8,455.0 L643.9,455.3 L645.0,455.8 L646.1,456.2 L647.1,456.7 L648.1,457.3 L649.0,457.8 L649.8,458.4 L650.6,459.0 L651.3,459.7 L651.9,460.4 L652.5,461.1 L652.9,461.8 L653.3,462.5 L653.5,463.3 L653.7,464.1 L653.8,464.8 L653.8,465.6" fill="none" stroke="#000" stroke-width="4.66" stroke-linecap="butt"/>
<path d="M638.0,453.9 L639.2,454.1 L640.4,454.3 L641.6,454.6 L642.8,455.0 L643.9,455.3 L645.0,455.8 L646.1,456.2 L647.1,456.7 L648.1,457.3 L649.0,457.8 L649.8,458.4 L650.6,459.0 L651.3,459.7 L651.9,460.4 L652.5,461.1 L652.9,461.8 L653.3,462.5 L653.5,463.3 L653.7,464.1 L653.8,464.8 L653.8,465.6" fill="none" stroke="#fff" stroke-width="2.33" stroke-linecap="butt"/>
<path d="M622.2,472.1 L622.3,471.7 L622.6,471.3 L622.9,470.9 L623.3,470.5 L623.7,470.1 L624.3,469.8 L624.9,469.5 L625.7,469.2 L626.5,468.9 L627.3,468.7 L628.3,468.5 L629.2,468.3 L630.3,468.2 L631.4,468.1 L632.5,468.1 L633.6,468.0 L634.8,468.1 L636.0,468.2 L637.2,468.3 L638.4,468.5 L639.7,468.7 L640.9,468.9 L642.0,469.3 L643.2,469.6 L644.3,470.0 L645.4,470.4 L646.5,470.9 L647.5,471.4 L648.4,472.0 L649.3,472.5 L650.1,473.1 L650.9,473.8 L651.5,474.5 L652.1,475.1 L652.6,475.9 L653.0,476.6 L653.4,477.3 L653.6,478.1 L653.7,478.8 L653.8,479.6 L653.8,480.4" fill="none" stroke="#000" stroke-width="4.66" stroke-linecap="butt"/>
<path d="M622.2,472.1 L622.3,471.7 L622.6,471.3 L622.9,470.9 L623.3,470.5 L623.7,470.1 L624.3,469.8 L624.9,469.5 L625.7,469.2 L626.5,468.9 L627.3,468.7 L628.3,468.5 L629.2,468.3 L630.3,468.2 L631.4,468.1 L632.5,468.1 L633.6,468.0 L634.8,468.1 L636.0,468.2 L637.2,468.3 L638.4,468.5 L639.7,468.7 L640.9,468.9 L642.0,469.3 L643.2,469.6 L644.3,470.0 L645.4,470.4 L646.5,470.9 L647.5,471.4 L648.4,472.0 L649.3,472.5 L650.1,473.1 L650.9,473.8 L651.5,474.5 L652.1,475.1 L652.6,475.9 L653.0,476.6 L653.4,477.3 L653.6,478.1 L653.7,478.8 L653.8,479.6 L653.8,480.4" fill="none" stroke="#fff" stroke-width="2.33" stroke-linecap="butt"/>
<path d="M622.2,486.8 L622.3,486.4 L622.4,486.0 L622.7,485.6 L623.0,485.2 L623.4,484.9 L623.9,484.5 L624.5,484.2 L625.2,483.9 L626.0,483.6 L626.8,483.3 L627.7,483.1 L628.6,482.9 L629.6,482.8 L630.7,482.7 L631.8,482.6 L632.9,482.5 L634.1,482.6 L635.3,482.6 L636.5,482.7 L637.7,482.9 L638.9,483.0 L640.1,483.3 L641.3,483.6 L642.5,483.9 L643.6,484.2 L644.7,484.6 L645.8,485.1 L646.9,485.6 L647.8,486.1 L648.8,486.7 L649.6,487.3 L650.4,487.9 L651.1,488.5 L651.8,489.2 L652.3,489.9 L652.8,490.6 L653.2,491.4 L653.5,492.1 L653.7,492.9 L653.8,493.6 L653.8,494.4" fill="none" stroke="#000" stroke-width="4.66" stroke-linecap="butt"/>
<path d="M622.2,486.8 L622.3,486.4 L622.4,486.0 L622.7,485.6 L623.0,485.2 L623.4,484.9 L623.9,484.5 L624.5,484.2 L625.2,483.9 L626.0,483.6 L626.8,483.3 L627.7,483.1 L628.6,482.9 L629.6,482.8 L630.7,482.7 L631.8,482.6 L632.9,482.5 L634.1,482.6 L635.3,482.6 L636.5,482.7 L637.7,482.9 L638.9,483.0 L640.1,483.3 L641.3,483.6 L642.5,483.9 L643.6,484.2 L644.7,484.6 L645.8,485.1 L646.9,485.6 L647.8,486.1 L648.8,486.7 L649.6,487.3 L650.4,487.9 L651.1,488.5 L651.8,489.2 L652.3,489.9 L652.8,490.6 L653.2,491.4 L653.5,492.1 L653.7,492.9 L653.8,493.6 L653.8,494.4" fill="none" stroke="#fff" stroke-width="2.33" stroke-linecap="butt"/>
<path d="M622.2,501.2 L622.3,500.8 L622.5,500.4 L622.8,500.0 L623.1,499.6 L623.6,499.2 L624.1,498.9 L624.8,498.6 L625.5,498.3 L626.2,498.0 L627.1,497.7 L628.0,497.5 L629.0,497.4 L630.0,497.2 L631.1,497.1 L632.2,497.1 L633.3,497.0 L634.5,497.1 L635.7,497.1 L636.9,497.3 L638.1,497.4 L639.3,497.6 L640.5,497.9 L641.7,498.2 L642.9,498.5 L644.0,498.9 L645.2,499.3 L646.2,499.8 L647.2,500.3 L648.2,500.8 L649.1,501.4 L649.9,502.0 L650.7,502.6 L651.4,503.3 L652.0,504.0 L652.5,504.7 L652.9,505.4 L653.3,506.1 L653.6,506.9 L653.7,507.6 L653.8,508.4 L653.8,509.2" fill="none" stroke="#000" stroke-width="4.66" stroke-linecap="butt"/>
<path d="M622.2,501.2 L622.3,500.8 L622.5,500.4 L622.8,500.0 L623.1,499.6 L623.6,499.2 L624.1,498.9 L624.8,498.6 L625.5,498.3 L626.2,498.0 L627.1,497.7 L628.0,497.5 L629.0,497.4 L630.0,497.2 L631.1,497.1 L632.2,497.1 L633.3,497.0 L634.5,497.1 L635.7,497.1 L636.9,497.3 L638.1,497.4 L639.3,497.6 L640.5,497.9 L641.7,498.2 L642.9,498.5 L644.0,498.9 L645.2,499.3 L646.2,499.8 L647.2,500.3 L648.2,500.8 L649.1,501.4 L649.9,502.0 L650.7,502.6 L651.4,503.3 L652.0,504.0 L652.5,504.7 L652.9,505.4 L653.3,506.1 L653.6,506.9 L653.7,507.6 L653.8,508.4 L653.8,509.2" fill="none" stroke="#fff" stroke-width="2.33" stroke-linecap="butt"/>
<path d="M622.2,515.5 L622.4,515.1 L622.6,514.7 L622.9,514.3 L623.3,514.0 L623.8,513.6 L624.4,513.3 L625.0,512.9 L625.7,512.7 L626.6,512.4 L627.4,512.2 L628.4,512.0 L629.3,511.8 L630.4,511.7 L631.5,511.6 L632.6,511.6 L633.8,511.6 L634.9,511.6 L636.1,511.7 L637.4,511.8 L638.6,512.0 L639.8,512.2 L641.0,512.5 L642.2,512.8 L643.3,513.1 L644.5,513.5 L645.5,514.0 L646.6,514.4 L647.6,515.0 L648.5,515.5 L649.4,516.1 L650.2,516.7 L650.9,517.4 L651.6,518.0 L652.2,518.7 L652.7,519.4 L653.1,520.2 L653.4,520.9 L653.6,521.7 L653.8,522.4 L653.8,523.2" fill="none" stroke="#000" stroke-width="4.66" stroke-linecap="butt"/>
<path d="M622.2,515.5 L622.4,515.1 L622.6,514.7 L622.9,514.3 L623.3,514.0 L623.8,513.6 L624.4,513.3 L625.0,512.9 L625.7,512.7 L626.6,512.4 L627.4,512.2 L628.4,512.0 L629.3,511.8 L630.4,511.7 L631.5,511.6 L632.6,511.6 L633.8,511.6 L634.9,511.6 L636.1,511.7 L637.4,511.8 L638.6,512.0 L639.8,512.2 L641.0,512.5 L642.2,512.8 L643.3,513.1 L644.5,513.5 L645.5,514.0 L646.6,514.4 L647.6,515.0 L648.5,515.5 L649.4,516.1 L650.2,516.7 L650.9,517.4 L651.6,518.0 L652.2,518.7 L652.7,519.4 L653.1,520.2 L653.4,520.9 L653.6,521.7 L653.8,522.4 L653.8,523.2" fill="none" stroke="#fff" stroke-width="2.33" stroke-linecap="butt"/>
<path d="M622.2,530.3 L622.3,529.9 L622.4,529.5 L622.7,529.1 L623.0,528.7 L623.5,528.3 L624.0,528.0 L624.6,527.6 L625.3,527.3 L626.0,527.1 L626.9,526.8 L627.8,526.6 L628.7,526.4" fill="none" stroke="#000" stroke-width="4.66" stroke-linecap="butt"/>
<path d="M622.2,530.3 L622.3,529.9 L622.4,529.5 L622.7,529.1 L623.0,528.7 L623.5,528.3 L624.0,528.0 L624.6,527.6 L625.3,527.3 L626.0,527.1 L626.9,526.8 L627.8,526.6 L628.7,526.4" fill="none" stroke="#fff" stroke-width="2.33" stroke-linecap="butt"/>
<path d="M653.8,465.6 L653.7,466.3 L653.5,467.1 L653.2,467.8 L652.8,468.6 L652.4,469.3 L651.8,470.0 L651.2,470.7 L650.5,471.3 L649.7,471.9 L648.8,472.5 L647.9,473.1 L646.9,473.6 L645.9,474.1 L644.8,474.6 L643.7,475.0 L642.6,475.3 L641.4,475.7 L640.2,476.0 L639.0,476.2 L637.8,476.4 L636.6,476.5 L635.4,476.6 L634.2,476.7 L633.0,476.7 L631.9,476.7 L630.8,476.6 L629.7,476.5 L628.7,476.3 L627.7,476.2 L626.8,475.9 L626.0,475.7 L625.3,475.4 L624.6,475.1 L624.0,474.8 L623.5,474.4 L623.0,474.1 L622.7,473.7 L622.4,473.3 L622.3,472.9 L622.2,472.5 L622.2,472.1" fill="none" stroke="#000" stroke-width="4.66" stroke-linecap="butt"/>
<path d="M653.8,465.6 L653.7,466.3 L653.5,467.1 L653.2,467.8 L652.8,468.6 L652.4,469.3 L651.8,470.0 L651.2,470.7 L650.5,471.3 L649.7,471.9 L648.8,472.5 L647.9,473.1 L646.9,473.6 L645.9,474.1 L644.8,474.6 L643.7,475.0 L642.6,475.3 L641.4,475.7 L640.2,476.0 L639.0,476.2 L637.8,476.4 L636.6,476.5 L635.4,476.6 L634.2,476.7 L633.0,476.7 L631.9,476.7 L630.8,476.6 L629.7,476.5 L628.7,476.3 L627.7,476.2 L626.8,475.9 L626.0,475.7 L625.3,475.4 L624.6,475.1 L624.0,474.8 L623.5,474.4 L623.0,474.1 L622.7,473.7 L622.4,473.3 L622.3,472.9 L622.2,472.5 L622.2,472.1" fill="none" stroke="#fff" stroke-width="2.33" stroke-linecap="butt"/>
<path d="M653.8,480.4 L653.6,481.1 L653.4,481.9 L653.1,482.6 L652.7,483.3 L652.2,484.0 L651.6,484.7 L650.9,485.4 L650.2,486.1 L649.4,486.7 L648.5,487.2 L647.6,487.8 L646.6,488.3 L645.5,488.8 L644.4,489.2 L643.3,489.6 L642.1,490.0 L641.0,490.3 L639.8,490.5 L638.5,490.8 L637.3,490.9 L636.1,491.1 L634.9,491.2 L633.7,491.2 L632.6,491.2 L631.5,491.2 L630.4,491.1 L629.3,490.9 L628.3,490.8 L627.4,490.6 L626.5,490.4 L625.7,490.1 L625.0,489.8 L624.4,489.5 L623.8,489.1 L623.3,488.8 L622.9,488.4 L622.6,488.0 L622.4,487.6 L622.2,487.2 L622.2,486.8" fill="none" stroke="#000" stroke-width="4.66" stroke-linecap="butt"/>
<path d="M653.8,480.4 L653.6,481.1 L653.4,481.9 L653.1,482.6 L652.7,483.3 L652.2,484.0 L651.6,484.7 L650.9,485.4 L650.2,486.1 L649.4,486.7 L648.5,487.2 L647.6,487.8 L646.6,488.3 L645.5,488.8 L644.4,489.2 L643.3,489.6 L642.1,490.0 L641.0,490.3 L639.8,490.5 L638.5,490.8 L637.3,490.9 L636.1,491.1 L634.9,491.2 L633.7,491.2 L632.6,491.2 L631.5,491.2 L630.4,491.1 L629.3,490.9 L628.3,490.8 L627.4,490.6 L626.5,490.4 L625.7,490.1 L625.0,489.8 L624.4,489.5 L623.8,489.1 L623.3,488.8 L622.9,488.4 L622.6,488.0 L622.4,487.6 L622.2,487.2 L622.2,486.8" fill="none" stroke="#fff" stroke-width="2.33" stroke-linecap="butt"/>
<path d="M653.8,494.4 L653.7,495.1 L653.5,495.9 L653.3,496.6 L652.9,497.4 L652.5,498.1 L652.0,498.8 L651.4,499.5 L650.7,500.1 L649.9,500.8 L649.1,501.4 L648.2,502.0 L647.2,502.5 L646.2,503.0 L645.1,503.5 L644.0,503.9 L642.9,504.3 L641.7,504.6 L640.5,504.9 L639.3,505.1 L638.1,505.3 L636.9,505.5 L635.7,505.6 L634.5,505.7 L633.3,505.7 L632.2,505.7 L631.0,505.6 L630.0,505.5 L629.0,505.4 L628.0,505.2 L627.1,505.0 L626.2,504.8 L625.5,504.5 L624.8,504.2 L624.1,503.9 L623.6,503.5 L623.1,503.2 L622.8,502.8 L622.5,502.4 L622.3,502.0 L622.2,501.6 L622.2,501.2" fill="none" stroke="#000" stroke-width="4.66" stroke-linecap="butt"/>
<path d="M653.8,494.4 L653.7,495.1 L653.5,495.9 L653.3,496.6 L652.9,497.4 L652.5,498.1 L652.0,498.8 L651.4,499.5 L650.7,500.1 L649.9,500.8 L649.1,501.4 L648.2,502.0 L647.2,502.5 L646.2,503.0 L645.1,503.5 L644.0,503.9 L642.9,504.3 L641.7,504.6 L640.5,504.9 L639.3,505.1 L638.1,505.3 L636.9,505.5 L635.7,505.6 L634.5,505.7 L633.3,505.7 L632.2,505.7 L631.0,505.6 L630.0,505.5 L629.0,505.4 L628.0,505.2 L627.1,505.0 L626.2,504.8 L625.5,504.5 L624.8,504.2 L624.1,503.9 L623.6,503.5 L623.1,503.2 L622.8,502.8 L622.5,502.4 L622.3,502.0 L622.2,501.6 L622.2,501.2" fill="none" stroke="#fff" stroke-width="2.33" stroke-linecap="butt"/>
<path d="M653.8,509.2 L653.7,509.9 L653.5,510.7 L653.2,511.4 L652.8,512.1 L652.3,512.9 L651.7,513.6 L651.1,514.2 L650.4,514.9 L649.6,515.5 L648.7,516.1 L647.8,516.7 L646.8,517.2 L645.8,517.7 L644.7,518.1 L643.6,518.5 L642.5,518.9 L641.3,519.2 L640.1,519.5 L638.9,519.7 L637.7,519.9 L636.4,520.0 L635.2,520.1 L634.0,520.2 L632.9,520.2 L631.7,520.2 L630.7,520.1 L629.6,520.0 L628.6,519.8 L627.6,519.6 L626.8,519.4 L625.9,519.2 L625.2,518.9 L624.5,518.6 L623.9,518.2 L623.4,517.9 L623.0,517.5 L622.7,517.1 L622.4,516.7 L622.3,516.3 L622.2,515.9 L622.2,515.5" fill="none" stroke="#000" stroke-width="4.66" stroke-linecap="butt"/>
<path d="M653.8,509.2 L653.7,509.9 L653.5,510.7 L653.2,511.4 L652.8,512.1 L652.3,512.9 L651.7,513.6 L651.1,514.2 L650.4,514.9 L649.6,515.5 L648.7,516.1 L647.8,516.7 L646.8,517.2 L645.8,517.7 L644.7,518.1 L643.6,518.5 L642.5,518.9 L641.3,519.2 L640.1,519.5 L638.9,519.7 L637.7,519.9 L636.4,520.0 L635.2,520.1 L634.0,520.2 L632.9,520.2 L631.7,520.2 L630.7,520.1 L629.6,520.0 L628.6,519.8 L627.6,519.6 L626.8,519.4 L625.9,519.2 L625.2,518.9 L624.5,518.6 L623.9,518.2 L623.4,517.9 L623.0,517.5 L622.7,517.1 L622.4,516.7 L622.3,516.3 L622.2,515.9 L622.2,515.5" fill="none" stroke="#fff" stroke-width="2.33" stroke-linecap="butt"/>
<path d="M653.8,523.2 L653.7,523.9 L653.6,524.7 L653.4,525.4 L653.0,526.2 L652.6,526.9 L652.1,527.6 L651.5,528.3 L650.9,529.0 L650.1,529.6 L649.3,530.2 L648.4,530.8 L647.5,531.4 L646.5,531.9 L645.4,532.3 L644.3,532.8 L643.2,533.2 L642.0,533.5 L640.8,533.8 L639.6,534.1 L638.4,534.3 L637.2,534.5 L636.0,534.6 L634.8,534.7 L633.6,534.7 L632.5,534.7 L631.3,534.6 L630.3,534.6 L629.2,534.4 L628.2,534.3 L627.3,534.1 L626.4,533.8 L625.7,533.6 L624.9,533.3 L624.3,533.0 L623.7,532.6 L623.2,532.3 L622.9,531.9 L622.6,531.5 L622.3,531.1 L622.2,530.7 L622.2,530.3" fill="none" stroke="#000" stroke-width="4.66" stroke-linecap="butt"/>
<path d="M653.8,523.2 L653.7,523.9 L653.6,524.7 L653.4,525.4 L653.0,526.2 L652.6,526.9 L652.1,527.6 L651.5,528.3 L650.9,529.0 L650.1,529.6 L649.3,530.2 L648.4,530.8 L647.5,531.4 L646.5,531.9 L645.4,532.3 L644.3,532.8 L643.2,533.2 L642.0,533.5 L640.8,533.8 L639.6,534.1 L638.4,534.3 L637.2,534.5 L636.0,534.6 L634.8,534.7 L633.6,534.7 L632.5,534.7 L631.3,534.6 L630.3,534.6 L629.2,534.4 L628.2,534.3 L627.3,534.1 L626.4,533.8 L625.7,533.6 L624.9,533.3 L624.3,533.0 L623.7,532.6 L623.2,532.3 L622.9,531.9 L622.6,531.5 L622.3,531.1 L622.2,530.7 L622.2,530.3" fill="none" stroke="#fff" stroke-width="2.33" stroke-linecap="butt"/>
<polyline points="638,535 638,560" fill="none" stroke-width="1.06" stroke-dasharray="9 2 1.5 2"/>
<path d="M629,424 L630.5,429 C633,431.5 641,431.5 643.5,429 L645,424 Z" fill="#fff" stroke-width="1.06"/>
<path d="M619.2,413.5 L619.5,418 C621,429 653,429 654.8,418 L655,413.5 Z" fill="#fff" stroke-width="1.17"/>
<ellipse cx="637.1" cy="413.5" rx="18" ry="12" fill="#fff" stroke-width="1.17"/>
<ellipse cx="637.1" cy="412" rx="11" ry="7.5" fill="none" stroke-width="1.06"/>
<ellipse cx="637.1" cy="412.8" rx="7.5" ry="5" fill="none" stroke-width="1.06"/>
<line x1="654.5" y1="420.5" x2="683.5" y2="436" stroke-width="1.06" />
<line x1="655" y1="491" x2="683.5" y2="490.6" stroke-width="1.06" />
<path d="M622,569 L622,574 L628,581 L633,578 L640,583 L648,585 L655,578 L656,569" fill="#fff" stroke-width="1.17"/>
<ellipse cx="639" cy="569" rx="17" ry="10.5" fill="#fff" stroke-width="1.17"/>
<ellipse cx="639" cy="568.5" rx="11" ry="6.5" fill="none" stroke-width="1.17"/>
<ellipse cx="639" cy="568.5" rx="7" ry="4" fill="#fff" stroke-width="1.06"/>
<path d="M622,571 L632,575 L628,581" fill="none" stroke-width="0.95"/>
<line x1="656.5" y1="572" x2="683.5" y2="568.3" stroke-width="1.06" />
<polyline points="638,584 638,712" fill="none" stroke-width="1.06" stroke-dasharray="9 2 1.5 2"/>
<line x1="508.3" y1="572" x2="513.5" y2="585" stroke-width="1.06" />
<path d="M505.7,613.4 L514,631.2 C518,636 526,633 528.2,628 L521.4,606 Z" fill="#fff" stroke-width="1.17"/>
<path d="M517.2,634.5 L527.1,658.4 L537.1,655.3 L528.2,632 Z" fill="#fff" stroke-width="1.17"/>
<path d="M526.6,659.5 L538.6,656.3 L540.7,661.6 L535,668.9 L529.2,667.9 C526,666 525,662 526.6,659.5 Z" fill="#fff" stroke-width="1.17"/>
<circle cx="530.3" cy="663.7" r="3.2" fill="#fff" stroke-width="1.17"/><circle cx="530.3" cy="663.7" r="1.5" fill="none" stroke-width="0.85"/>
<path d="M497.3,597.7 L504.1,587.2 L514.6,584.6 L518.7,586.2 L522.9,595.6 L521.9,604 L514.6,609.2 L503,613.4 L498.8,611.3 L497.3,605 Z" fill="#fff" stroke-width="1.17"/>
<path d="M498,606 L503,610 L515,606 L521.5,600" fill="none" stroke-width="0.85"/>
<ellipse cx="509.8" cy="599.5" rx="9" ry="6.5" fill="#fff" stroke-width="1.06"/>
<ellipse cx="509.8" cy="600.5" rx="6.5" ry="4.3" fill="none" stroke-width="0.85"/>
<ellipse cx="508.5" cy="594" rx="4.6" ry="3.8" fill="#fff" stroke-width="1.06"/>
<ellipse cx="507" cy="590" rx="2.4" ry="2" fill="#fff" stroke-width="1.06"/>
<circle cx="502.5" cy="608.2" r="1.6" fill="none" stroke-width="0.85"/><circle cx="513.5" cy="587.7" r="1.4" fill="none" stroke-width="0.85"/>
<g transform="translate(535,608.7) rotate(0)"><ellipse rx="5" ry="3.5" fill="#fff" stroke-width="1.17"/><ellipse rx="2.2" ry="1.6" fill="none" stroke-width="0.95"/></g>
<g transform="translate(499.9,638.5) rotate(0)"><ellipse rx="5" ry="3.5" fill="#fff" stroke-width="1.17"/><ellipse rx="2.2" ry="1.6" fill="none" stroke-width="0.95"/></g>
<ellipse cx="535" cy="608.7" rx="2" ry="1.4" fill="#000" stroke="none"/><ellipse cx="499.9" cy="638.5" rx="2" ry="1.4" fill="#000" stroke="none"/>
<polyline points="496.8,632.3 496.2,627 506.2,618.1" fill="none" stroke-width="1.06" stroke-dasharray="3 2"/>
<polyline points="522.9,605 531.3,598.2 532.9,604" fill="none" stroke-width="1.06" stroke-dasharray="3 2"/>
<polyline points="505.7,661 516.1,650 516.6,677.3 527.6,665.8" fill="none" stroke-width="1.06" stroke-dasharray="12 2 2 2"/>
<g transform="translate(492,676.2) rotate(-48.0)"><rect x="0" y="-1.8" width="20.5" height="3.6" rx="0.8" fill="#fff" stroke-width="1.06"/><line x1="8.2" y1="-1.8" x2="9.6" y2="1.8" stroke-width="0.74"/><line x1="9.9" y1="-1.8" x2="11.3" y2="1.8" stroke-width="0.74"/><line x1="11.6" y1="-1.8" x2="13" y2="1.8" stroke-width="0.74"/><line x1="13.3" y1="-1.8" x2="14.7" y2="1.8" stroke-width="0.74"/><line x1="15" y1="-1.8" x2="16.4" y2="1.8" stroke-width="0.74"/><line x1="16.7" y1="-1.8" x2="18.1" y2="1.8" stroke-width="0.74"/><rect x="-4" y="-3.9" width="5" height="7.8" fill="#fff" stroke-width="1.17"/><line x1="-4" y1="0" x2="1" y2="0" stroke-width="0.74"/><ellipse cx="-4" cy="0" rx="1.8" ry="3.9" fill="#fff" stroke-width="1.17"/><ellipse cx="1.8" cy="0" rx="1.6" ry="4.8" fill="#fff" stroke-width="1.17"/></g>
<line x1="537" y1="656.3" x2="545.4" y2="651.1" stroke-width="1.06" />
<line x1="535.5" y1="668.9" x2="543.9" y2="690" stroke-width="1.06" />
<line x1="538.6" y1="578.8" x2="521.9" y2="590.9" stroke-width="1.06" />
<line x1="537" y1="613.4" x2="548.6" y2="623.4" stroke-width="1.06" />
<line x1="478" y1="660" x2="490" y2="672" stroke-width="1.06" />
<line x1="508" y1="705" x2="520" y2="718" stroke-width="1.06" />
<polyline points="537,637 580.4,662.6" fill="none" stroke-width="1.06" stroke-dasharray="9 2 1.5 2"/>
<path d="M583.75,676.25 C586,660 590,659 592.5,661.9 L606.25,673.1 L616.25,678.75 L635,683.75 L652.5,691.25 L662.5,697.5 L665,711.25 L670,720 L678.75,723.1 L680,731.25 L675,740 L667.5,745 L662.5,741.25 L655,738.1 L632.5,736.25 L620,730 L611.25,717.5 L603.75,701.25 L593.75,683.75 Z" fill="#fff" stroke-width="1.22"/>
<ellipse cx="636.25" cy="706.25" rx="25.5" ry="18" fill="#fff" stroke-width="1.17"/>
<ellipse cx="636.5" cy="707.5" rx="20" ry="13.5" fill="#fff" stroke-width="1.06"/>
<path d="M620,712 C625,705 648,705 655,713" fill="none" stroke-width="0.95"/>
<ellipse cx="637" cy="717" rx="11" ry="5" fill="none" stroke-width="0.95"/><ellipse cx="637" cy="718" rx="6" ry="2.8" fill="none" stroke-width="0.95"/>
<path d="M618,700 C625,697 640,702 652,700" fill="none" stroke-width="0.85"/>
<ellipse cx="620.6" cy="724.4" rx="3" ry="4.5" fill="#fff" stroke-width="0.95"/>
<ellipse cx="651.25" cy="703.75" rx="3.2" ry="4.5" fill="#fff" stroke-width="0.95"/>
<ellipse cx="618.1" cy="704.4" rx="2.8" ry="5" fill="#fff" stroke-width="0.95"/>
<path d="M608.6,688 C608,684 612,683 616,685 L620,690 L614,693 Z" fill="#fff" stroke-width="0.95"/>
<path d="M665,719 L678.75,723.1 M660,735 L670,730 L676,738" fill="none" stroke-width="0.85"/>
<ellipse cx="665" cy="725" rx="1.6" ry="2.2" fill="none" stroke-width="0.85"/>
<ellipse cx="673" cy="729" rx="1.6" ry="2.2" fill="none" stroke-width="0.85"/>
<ellipse cx="655" cy="731" rx="1.6" ry="2.2" fill="none" stroke-width="0.85"/>
<ellipse cx="664" cy="733" rx="1.6" ry="2.2" fill="none" stroke-width="0.85"/>
<path d="M587,664 L594,661 L598,672 L591,676 Z" fill="#fff" stroke-width="1.06"/>
<ellipse cx="585.6" cy="671.9" rx="4.5" ry="6" fill="#fff" stroke-width="1.17"/>
<ellipse cx="585.6" cy="672" rx="2.4" ry="3.2" fill="#000" stroke="none"/>
<g transform="translate(608.6,655.8) rotate(30)"><ellipse rx="3.5" ry="4.2" fill="#fff" stroke-width="1.17"/><ellipse rx="1.6" ry="1.9" fill="none" stroke-width="0.95"/></g>
<g transform="translate(624.2,645.5)"><ellipse cx="0" cy="2.4" rx="4.3" ry="1.9" fill="#fff" stroke-width="1.17"/><path d="M-3.4,-1.5 L3.4,-1.5 L3.4,2.1 C1.7,3.4 -1.7,3.4 -3.4,2.1 Z" fill="#fff" stroke-width="1.17"/><path d="M-1.3,-0.4 L-1.3,2.8 M1.3,-0.4 L1.3,2.8" stroke-width="0.74"/><ellipse cx="0" cy="-1.5" rx="3.4" ry="2.1" fill="#fff" stroke-width="1.17"/><ellipse cx="0" cy="-1.6" rx="1.7" ry="1.1" fill="none" stroke-width="1.06"/></g>
<polyline points="596,663 604,658" fill="none" stroke-width="1.06" stroke-dasharray="3 2"/>
<polyline points="612,653 619,649" fill="none" stroke-width="1.06" stroke-dasharray="3 2"/>
<line x1="631" y1="642" x2="686" y2="631" stroke-width="1.06" />
<g transform="translate(555.2,694) rotate(-34.8)"><rect x="0" y="-1.8" width="19.3" height="3.6" rx="0.8" fill="#fff" stroke-width="1.06"/><line x1="7.7" y1="-1.8" x2="9.1" y2="1.8" stroke-width="0.74"/><line x1="9.4" y1="-1.8" x2="10.8" y2="1.8" stroke-width="0.74"/><line x1="11.1" y1="-1.8" x2="12.5" y2="1.8" stroke-width="0.74"/><line x1="12.8" y1="-1.8" x2="14.2" y2="1.8" stroke-width="0.74"/><line x1="14.5" y1="-1.8" x2="15.9" y2="1.8" stroke-width="0.74"/><line x1="16.2" y1="-1.8" x2="17.6" y2="1.8" stroke-width="0.74"/><rect x="-4" y="-3.9" width="5" height="7.8" fill="#fff" stroke-width="1.17"/><line x1="-4" y1="0" x2="1" y2="0" stroke-width="0.74"/><ellipse cx="-4" cy="0" rx="1.8" ry="3.9" fill="#fff" stroke-width="1.17"/><ellipse cx="1.8" cy="0" rx="1.6" ry="4.8" fill="#fff" stroke-width="1.17"/></g>
<polyline points="574,682 582,676" fill="none" stroke-width="1.06" stroke-dasharray="3 2"/>
<line x1="662" y1="697" x2="676" y2="689" stroke-width="1.06" />
<g transform="translate(706.7,709.7) rotate(143.3)"><rect x="0" y="-1.8" width="17.2" height="3.6" rx="0.8" fill="#fff" stroke-width="1.06"/><line x1="6.9" y1="-1.8" x2="8.3" y2="1.8" stroke-width="0.74"/><line x1="8.6" y1="-1.8" x2="10" y2="1.8" stroke-width="0.74"/><line x1="10.3" y1="-1.8" x2="11.7" y2="1.8" stroke-width="0.74"/><line x1="12" y1="-1.8" x2="13.4" y2="1.8" stroke-width="0.74"/><line x1="13.7" y1="-1.8" x2="15.1" y2="1.8" stroke-width="0.74"/><rect x="-4" y="-3.9" width="5" height="7.8" fill="#fff" stroke-width="1.17"/><line x1="-4" y1="0" x2="1" y2="0" stroke-width="0.74"/><ellipse cx="-4" cy="0" rx="1.8" ry="3.9" fill="#fff" stroke-width="1.17"/><ellipse cx="1.8" cy="0" rx="1.6" ry="4.8" fill="#fff" stroke-width="1.17"/></g>
<polyline points="690,722 680,728" fill="none" stroke-width="1.06" stroke-dasharray="3 2"/>
<g transform="translate(641.3,755.5)"><ellipse cx="0" cy="2.4" rx="4.4" ry="2.0" fill="#fff" stroke-width="1.17"/><path d="M-3.5,-1.5 L3.5,-1.5 L3.5,2.2 C1.8,3.5 -1.8,3.5 -3.5,2.2 Z" fill="#fff" stroke-width="1.17"/><path d="M-1.3,-0.4 L-1.3,2.9 M1.3,-0.4 L1.3,2.9" stroke-width="0.74"/><ellipse cx="0" cy="-1.5" rx="3.5" ry="2.2" fill="#fff" stroke-width="1.17"/><ellipse cx="0" cy="-1.7" rx="1.8" ry="1.1" fill="none" stroke-width="1.06"/></g>
<polyline points="646,750 660,740" fill="none" stroke-width="1.06" stroke-dasharray="3 2"/>
<polyline points="443.6,398 443.6,436 387,467 387,600" fill="none" stroke-width="1.06" stroke-dasharray="9 2 1.5 2"/>
<polyline points="396.6,553 497,612" fill="none" stroke-width="1.06" stroke-dasharray="9 2 1.5 2"/>
<polyline points="399,605 421.5,620.6 421.5,705 478,742" fill="none" stroke-width="1.06" stroke-dasharray="9 2 1.5 2"/>
<polyline points="393.7,667 393.7,683.3 378.8,692.8 378.8,790" fill="none" stroke-width="1.06" stroke-dasharray="9 2 1.5 2"/>
<line x1="407.9" y1="669.1" x2="433" y2="748.3" stroke-width="1.06" />
<polyline points="543.9,690 544,771.7" fill="none" stroke-width="1.06" stroke-dasharray="9 2 1.5 2"/>
<path d="M220,619.5 C212,624 200,628 196,633 C192,640 197,647 206,649 L232,651 C240,653 248,665 256,675 C266,686 282,697 294,702 C298,703 300,695 304,694 C312,693 324,696 330,701 C338,708 340,722 346,731 C352,741 360,747 373,746.5 C385,745 395,736 403,730" fill="none" stroke="#000" stroke-width="5.94"/>
<path d="M220,619.5 C212,624 200,628 196,633 C192,640 197,647 206,649 L232,651 C240,653 248,665 256,675 C266,686 282,697 294,702 C298,703 300,695 304,694 C312,693 324,696 330,701 C338,708 340,722 346,731 C352,741 360,747 373,746.5 C385,745 395,736 403,730" fill="none" stroke="#fff" stroke-width="2.76"/>
<path d="M214,622 C215,616 222,613 225,617 C227,621 224,626 220,626 Z" fill="#fff" stroke-width="1.17"/>
<ellipse cx="220.5" cy="619.5" rx="1.8" ry="2.2" fill="none" stroke-width="0.95"/>
<path d="M398,733 C398,728 404,724 406,727 C408,731 405,736 401,736 Z" fill="#fff" stroke-width="1.17"/>
<ellipse cx="402.5" cy="730" rx="1.8" ry="2.4" fill="none" stroke-width="0.95"/>
<line x1="216" y1="700" x2="254" y2="675" stroke-width="1.06" />
<path d="M378.8,717.5 C379.5,715 381.5,714 384,714 C387,714 390,715.5 391,718.5 C391.5,721 390.5,724 388,725.8 C386,727 382,727 380.2,724.6 C378.8,722.5 378.5,719.5 378.8,717.5 Z" fill="#fff" stroke-width="1.22"/>
<ellipse cx="386" cy="719.5" rx="3.4" ry="4" fill="#fff" stroke-width="1.06"/><circle cx="386" cy="719.5" r="1.4" fill="none" stroke-width="0.85"/>
<line x1="349" y1="685" x2="380" y2="712" stroke-width="1.06" />
<polyline points="391.7,724.6 398.4,728" fill="none" stroke-width="1.06" stroke-dasharray="3 2"/>
<line x1="405.9" y1="732.1" x2="419.4" y2="739.5" stroke-width="1.06" />
<circle cx="424.8" cy="742.3" r="3.2" fill="#000" stroke="none"/>
<path d="M328.3,744.8 C330,742 332,741 333.5,741 L340.8,744 L341,751.5 C340,754 337,756 335.6,755.8 L328.8,752.8 C328,750 328,747 328.3,744.8 Z" fill="#fff" stroke-width="1.22"/>
<path d="M328.6,745 L335.6,748 L340.8,744 M335.6,748 L335.6,755.5" fill="none" stroke-width="0.95"/>
<path d="M337,752.5 C337,750 339.5,749.5 339.5,752 C339.5,754 337,754.5 337,752.5" fill="none" stroke-width="0.74"/>
<line x1="290" y1="745.5" x2="328" y2="749.5" stroke-width="1.06" />
<polyline points="345,746 345,752" fill="none" stroke-width="1.06" stroke-dasharray="3 2"/>
<path d="M330.5,764 L337,767 L341,766.5 L340.5,758.5 L343,755.5 L349.5,757.5 L347.5,760.5 L346.5,771.5 C345,775 339,776 334,772.5 L330.5,768.5 Z" fill="#fff" stroke-width="1.22"/>
<path d="M340.5,758.5 L347.5,760.5 M343,769 C342,772 338,772 336,770" fill="none" stroke-width="0.85"/>
<line x1="290" y1="773.8" x2="328" y2="766.5" stroke-width="1.06" />
<path d="M326,767.5 L330,765.5" stroke-width="2.33"/>
<polyline points="331.5,758 331.5,786" fill="none" stroke-width="1.06" stroke-dasharray="3 2"/>
<polyline points="345.5,775 332,787" fill="none" stroke-width="1.06" stroke-dasharray="3 2"/>
<g transform="translate(330.8,793.8)"><ellipse cx="0" cy="2.6" rx="4.8" ry="2.2" fill="#fff" stroke-width="1.17"/><path d="M-3.8,-1.7 L3.8,-1.7 L3.8,2.4 C1.9,3.8 -1.9,3.8 -3.8,2.4 Z" fill="#fff" stroke-width="1.17"/><path d="M-1.4,-0.5 L-1.4,3.1 M1.4,-0.5 L1.4,3.1" stroke-width="0.74"/><ellipse cx="0" cy="-1.7" rx="3.8" ry="2.4" fill="#fff" stroke-width="1.17"/><ellipse cx="0" cy="-1.8" rx="1.9" ry="1.2" fill="none" stroke-width="1.06"/></g>
<line x1="308" y1="800" x2="326" y2="795.5" stroke-width="1.06" />
<polyline points="378.3,700 378.3,790" fill="none" stroke-width="1.06" stroke-dasharray="9 2 1.5 2"/>
<path d="M368.3,798.3 C364,806 363,815 364.2,826.7 C365,832 370,837 376.7,840.4 L419,869.6 L419,878.3 L456.9,863.75 L456.9,856.5 L437.9,846.25 L417.5,833.1 L405.8,827.3 C400,824 396,820 395.8,813.3 C395,806 394,801 391.7,799.2 C388,795 372,794 368.3,798.3 Z" fill="#fff" stroke-width="1.22"/>
<path d="M366,812 C370,806 388,804 395,810 M366,820 C372,813 390,811 396,818 M368,806 C372,800 386,799 393,804" fill="none" stroke-width="0.85"/>
<ellipse cx="378.3" cy="797" rx="5.5" ry="3" fill="#fff" stroke-width="1.06"/><ellipse cx="378.3" cy="797" rx="2.5" ry="1.4" fill="none" stroke-width="0.85"/>
<path d="M419,869.6 L456.9,856.5 M414.6,859.4 L439.4,850.6 M422,873 L422,877" fill="none" stroke-width="0.85"/>
<ellipse cx="378.3" cy="823" rx="1.8" ry="1.1" fill="none" stroke-width="0.85"/>
<line x1="378.3" y1="819" x2="378.3" y2="823" stroke-width="0.74" />
<ellipse cx="405" cy="834" rx="1.8" ry="1.1" fill="none" stroke-width="0.85"/>
<line x1="405" y1="830" x2="405" y2="834" stroke-width="0.74" />
<ellipse cx="398" cy="845" rx="1.8" ry="1.1" fill="none" stroke-width="0.85"/>
<line x1="398" y1="841" x2="398" y2="845" stroke-width="0.74" />
<ellipse cx="410" cy="855" rx="1.8" ry="1.1" fill="none" stroke-width="0.85"/>
<line x1="410" y1="851" x2="410" y2="855" stroke-width="0.74" />
<ellipse cx="427" cy="850" rx="1.8" ry="1.1" fill="none" stroke-width="0.85"/>
<line x1="427" y1="846" x2="427" y2="850" stroke-width="0.74" />
<ellipse cx="446" cy="854" rx="1.8" ry="1.1" fill="none" stroke-width="0.85"/>
<line x1="446" y1="850" x2="446" y2="854" stroke-width="0.74" />
<ellipse cx="430" cy="862" rx="1.8" ry="1.1" fill="none" stroke-width="0.85"/>
<line x1="430" y1="858" x2="430" y2="862" stroke-width="0.74" />
<path d="M423.3,871 L440,866 L462,861 C467,862 467,869 463,871 L444,877 C442,882 434,884 432,879 L423.3,876 Z" fill="#fff" stroke-width="1.17"/>
<path d="M419,878.3 L456.9,863.75" fill="none" stroke-width="1.06"/>
<circle cx="436.5" cy="878.3" r="3" fill="#fff" stroke-width="1.06"/><circle cx="461.3" cy="867.4" r="2.6" fill="#fff" stroke-width="1.06"/>
<line x1="436.5" y1="882" x2="436.5" y2="897" stroke-width="0.95" />
<line x1="460.8" y1="870.5" x2="460.8" y2="876" stroke-width="0.95" />
<line x1="405" y1="778" x2="392" y2="799" stroke-width="1.06" />
<g transform="translate(346.7,836)"><ellipse cx="0" cy="2.9" rx="5.2" ry="2.3" fill="#fff" stroke-width="1.17"/><path d="M-4.2,-1.8 L4.2,-1.8 L4.2,2.6 C2.1,4.2 -2.1,4.2 -4.2,2.6 Z" fill="#fff" stroke-width="1.17"/><path d="M-1.6,-0.5 L-1.6,3.4 M1.6,-0.5 L1.6,3.4" stroke-width="0.74"/><ellipse cx="0" cy="-1.8" rx="4.2" ry="2.6" fill="#fff" stroke-width="1.17"/><ellipse cx="0" cy="-2.0" rx="2.1" ry="1.3" fill="none" stroke-width="1.06"/></g>
<line x1="310" y1="852" x2="341" y2="839" stroke-width="1.06" />
<polyline points="346.7,831 347.5,822 360,819" fill="none" stroke-width="0.95" />
<polyline points="378.3,840 378.3,870" fill="none" stroke-width="1.06" stroke-dasharray="9 2 1.5 2"/>
<g transform="translate(378.3,875.5)"><ellipse cx="0" cy="2.9" rx="5.2" ry="2.3" fill="#fff" stroke-width="1.17"/><path d="M-4.2,-1.8 L4.2,-1.8 L4.2,2.6 C2.1,4.2 -2.1,4.2 -4.2,2.6 Z" fill="#fff" stroke-width="1.17"/><path d="M-1.6,-0.5 L-1.6,3.4 M1.6,-0.5 L1.6,3.4" stroke-width="0.74"/><ellipse cx="0" cy="-1.8" rx="4.2" ry="2.6" fill="#fff" stroke-width="1.17"/><ellipse cx="0" cy="-2.0" rx="2.1" ry="1.3" fill="none" stroke-width="1.06"/></g>
<line x1="335" y1="883.3" x2="373" y2="877.5" stroke-width="1.06" />
<line x1="459.4" y1="873" x2="459.4" y2="898" stroke-width="0.95" />
<g transform="translate(459.4,904)"><ellipse cx="0" cy="3.0" rx="5.4" ry="2.4" fill="#fff" stroke-width="1.17"/><path d="M-4.3,-1.9 L4.3,-1.9 L4.3,2.7 C2.2,4.3 -2.2,4.3 -4.3,2.7 Z" fill="#fff" stroke-width="1.17"/><path d="M-1.6,-0.5 L-1.6,3.5 M1.6,-0.5 L1.6,3.5" stroke-width="0.74"/><ellipse cx="0" cy="-1.9" rx="4.3" ry="2.7" fill="#fff" stroke-width="1.17"/><ellipse cx="0" cy="-2.1" rx="2.2" ry="1.4" fill="none" stroke-width="1.06"/></g>
<line x1="465" y1="908.5" x2="492" y2="929" stroke-width="1.06" />
<polyline points="445.3,874 445.3,925" fill="none" stroke-width="1.06" stroke-dasharray="9 2 1.5 2"/>
<rect x="443.4" y="925.3" width="3.8" height="16.2" fill="#fff" stroke-width="1.06"/>
<line x1="443.4" y1="926.8" x2="447.2" y2="928" stroke-width="0.69" />
<line x1="443.4" y1="928.5" x2="447.2" y2="929.7" stroke-width="0.69" />
<line x1="443.4" y1="930.2" x2="447.2" y2="931.4" stroke-width="0.69" />
<line x1="443.4" y1="931.9" x2="447.2" y2="933.1" stroke-width="0.69" />
<line x1="443.4" y1="933.6" x2="447.2" y2="934.8" stroke-width="0.69" />
<line x1="443.4" y1="935.3" x2="447.2" y2="936.5" stroke-width="0.69" />
<line x1="443.4" y1="937" x2="447.2" y2="938.2" stroke-width="0.69" />
<ellipse cx="445.3" cy="941.5" rx="5" ry="2.2" fill="#fff" stroke-width="1.17"/>
<path d="M441.1,942 L449.6,942 L449.6,946.5 C447.8,948 442.8,948 441.1,946.5 Z" fill="#fff" stroke-width="1.17"/>
<path d="M445.3,943 L445.3,947.5" stroke-width="0.74"/>
<line x1="452" y1="945.5" x2="472" y2="963" stroke-width="1.06" />
<path d="M190.4,826.7 Q187.0,828.6 189.9,831.2 Q186.5,833.1 189.4,835.7 Q186.0,837.6 188.9,840.2 Q185.5,842.1 188.4,844.7 Q185.0,846.6 187.9,849.2 Q184.5,851.2 187.5,853.8 Q184.0,855.7 187.0,858.3 Q183.5,860.2 186.5,862.8 Q183.0,864.7 186.0,867.3 Q182.6,869.2 185.5,871.8 Q182.1,873.7 185.0,876.3 Q181.4,877.8 184.0,880.7 Q180.4,882.2 183.0,885.1 Q179.4,886.6 182.0,889.5 Q178.4,890.9 181.0,893.8 Q177.4,895.3 180.0,898.2 Q176.4,899.7 179.0,902.6 Q175.4,904.1 178.0,907.0 Q175.9,910.2 179.7,910.8 Q177.6,914.0 181.3,914.6 Q179.2,917.8 183.0,918.4 Q180.9,921.6 184.6,922.2 Q182.5,925.4 186.3,926.0 Q187.3,929.7 190.4,927.4 Q191.3,931.1 194.4,928.8 Q195.4,932.5 198.4,930.1 Q199.4,933.8 202.5,931.5 Q204.8,934.8 207.5,931.7 Q209.8,935.0 212.4,931.9 Q214.8,935.2 217.4,932.1 Q219.7,935.5 222.4,932.4 Q224.7,935.7 227.3,932.6 Q229.7,935.9 232.3,932.8 Q232.7,936.7 236.4,935.2 Q236.8,939.1 240.4,937.5 Q240.8,941.5 244.4,939.9 Q244.9,943.9 248.5,942.3 Q247.9,946.3 251.9,945.7 Q251.3,949.6 255.3,949.0 Q254.7,953.0 258.7,952.4 Q258.1,956.4 262.1,955.8 Q262.8,959.7 266.4,958.0 Q267.2,961.9 270.8,960.2 Q271.5,964.1 275.1,962.3 Q275.9,966.3 279.5,964.5 Q280.2,968.5 283.8,966.7 Q286.0,969.9 288.1,966.7 Q290.3,969.9 292.4,966.7 Q294.6,969.9 296.8,966.7 Q298.9,969.9 301.1,966.7 Q303.2,969.9 305.4,966.7 Q308.9,968.8 309.9,964.9 Q313.4,966.9 314.4,963.1 Q317.9,965.1 318.9,961.2 Q322.4,963.3 323.5,959.4 Q326.9,961.5 328.0,957.6 Q331.4,959.7 332.5,955.8 Q336.1,957.4 336.4,953.5 Q339.9,955.1 340.2,951.2 Q343.8,952.8 344.1,948.9 Q347.7,950.4 348.0,946.5 Q351.6,948.1 351.9,944.2 Q355.4,945.8 355.7,941.9 Q359.3,943.5 359.6,939.6 Q363.2,941.2 363.5,937.3 Q367.1,938.8 367.3,934.9 Q370.9,936.5 371.2,932.6 Q374.8,934.2 375.1,930.3 Q378.7,931.9 379.0,928.0 Q382.5,929.5 382.8,925.6 Q386.4,927.2 386.7,923.3 Q390.2,925.1 390.6,921.2 Q394.1,923.0 394.5,919.1 Q398.0,920.9 398.4,917.0 Q401.9,918.8 402.3,914.9 Q405.8,916.7 406.3,912.8 Q409.7,914.6 410.2,910.7 Q413.6,912.5 414.1,908.6 Q417.5,910.4 418.0,906.5 Q421.5,908.3 421.9,904.4 L416.5,890.8 L397.5,882.7 Q393.7,881.5 393.7,885.4 Q390.0,884.2 389.9,888.1 Q386.2,886.9 386.1,890.8 Q382.4,889.6 382.3,893.5 Q378.6,892.3 378.6,896.2 Q374.8,895.0 374.8,899.0 Q371.0,897.7 371.0,901.7 Q367.2,900.4 367.2,904.4 Q363.4,903.1 363.4,907.1 Q359.6,905.8 359.6,909.8 Q356.0,908.2 355.7,912.1 Q352.2,910.5 351.9,914.4 Q348.3,912.8 348.0,916.7 Q344.4,915.2 344.1,919.1 Q340.5,917.5 340.2,921.4 Q336.7,919.8 336.4,923.7 Q332.8,922.1 332.5,926.0 Q329.1,924.1 328.6,927.9 Q325.3,926.1 324.8,929.9 Q321.4,928.0 320.9,931.8 Q317.5,929.9 317.0,933.8 Q313.6,931.9 313.1,935.7 Q309.8,933.8 309.3,937.7 Q305.9,935.8 305.4,939.6 Q302.8,936.6 300.9,940.0 Q298.3,937.1 296.4,940.5 Q293.8,937.5 291.9,940.9 Q292.0,937.1 288.5,938.5 Q288.6,934.7 285.1,936.2 Q285.2,932.4 281.7,933.9 Q281.8,930.0 278.3,931.5 Q278.3,927.5 274.5,928.8 Q274.5,924.8 270.7,926.1 Q270.7,922.1 267.0,923.3 Q266.9,919.4 263.2,920.6 Q263.2,916.7 259.4,917.9 Q258.3,914.1 255.1,916.3 Q254.0,912.5 250.7,914.7 Q249.7,910.9 246.4,913.0 Q245.3,909.2 242.0,911.4 Q241.0,907.6 237.7,909.8 Q235.9,906.3 233.2,909.1 Q231.4,905.6 228.7,908.4 Q226.9,904.9 224.1,907.8 Q222.4,904.2 219.6,907.1 Q217.9,903.6 215.1,906.4 Q213.3,902.9 210.6,905.7 Q211.7,902.0 207.9,902.6 Q209.0,898.9 205.2,899.4 Q206.3,895.8 202.5,896.3 Q206.0,894.8 203.2,892.2 Q206.7,890.7 203.8,888.1 Q207.3,886.6 204.5,884.1 Q208.0,882.6 205.2,880.0 Q208.7,878.2 205.9,875.5 Q209.4,873.7 206.6,871.0 Q210.1,869.2 207.3,866.5 Q210.8,864.7 208.0,862.0 Q211.8,861.1 209.8,857.7 Q213.6,856.8 211.6,853.4 Q215.4,852.5 213.4,849.1 Q217.2,848.2 215.2,844.8 Q219.0,843.9 216.9,840.5 Q220.8,839.6 218.7,836.2 Q222.6,835.3 220.5,831.9 Q224.4,831.0 222.3,827.6 Z" fill="#fff" stroke-width="1.27"/>
<path d="M197,832 L193,872 L187,904 L194,918 L212,923 L238,925 L254,934 L270,950 L288,958 L306,958 L330,948 L360,930 L412,901" fill="none" stroke-width="0.85"/>
<path d="M214,832 L202,868 L196,898 L204,912 L240,917 L260,927 L280,946 L296,952 L316,948 L350,930 L405,895" fill="none" stroke-width="0.85"/>
<path d="M360,925 L410,896 M300,945 C320,942 340,932 360,920" fill="none" stroke-width="0.74"/>
<path d="M205,840 L196,885 M209,838 L199,880" fill="none" stroke-width="0.74"/>
<path d="M208,918 L212,908 M233,931 L236,919 M296,958 L300,946 M248,914 L268,916 C271,919 268,922 265,922 L246,920 Z M283,925 L292,937 C294,941 297,941 298,938 L289,926 Z" fill="none" stroke-width="0.85"/>
<circle cx="198" cy="827" r="1.3" fill="none" stroke-width="0.85"/>
<circle cx="213" cy="828" r="1.3" fill="none" stroke-width="0.85"/>
<circle cx="200" cy="831" r="1.3" fill="none" stroke-width="0.85"/>
<circle cx="204" cy="842" r="1.3" fill="none" stroke-width="0.85"/>
<circle cx="204" cy="910" r="1.3" fill="none" stroke-width="0.85"/>
<circle cx="196" cy="920" r="1.3" fill="none" stroke-width="0.85"/>
<circle cx="240" cy="916" r="1.3" fill="none" stroke-width="0.85"/>
<circle cx="253" cy="921" r="1.3" fill="none" stroke-width="0.85"/>
<circle cx="275" cy="929" r="1.3" fill="none" stroke-width="0.85"/>
<circle cx="287" cy="917" r="1.3" fill="none" stroke-width="0.85"/>
<circle cx="313" cy="944" r="1.3" fill="none" stroke-width="0.85"/>
<circle cx="343" cy="930" r="1.3" fill="none" stroke-width="0.85"/>
<circle cx="380" cy="905" r="1.3" fill="none" stroke-width="0.85"/>
<circle cx="404" cy="888" r="1.3" fill="none" stroke-width="0.85"/>
<circle cx="410" cy="897" r="1.3" fill="none" stroke-width="0.85"/>
<line x1="197" y1="785" x2="207" y2="823" stroke-width="1.06" />
<line x1="287" y1="933" x2="287" y2="943" stroke-width="0.85" />
<line x1="303" y1="945" x2="303" y2="955" stroke-width="0.85" />
<line x1="404" y1="879" x2="404" y2="888" stroke-width="0.85" />
<line x1="410" y1="885" x2="410" y2="895" stroke-width="0.85" />
<line x1="397" y1="874" x2="397" y2="884" stroke-width="0.85" />
<polyline points="282,966 282,991" fill="none" stroke-width="1.06" stroke-dasharray="9 2 1.5 2"/>
<rect x="280.1" y="990" width="3.8" height="13" fill="#fff" stroke-width="1.06"/>
<line x1="280.1" y1="991.5" x2="283.9" y2="992.7" stroke-width="0.69" />
<line x1="280.1" y1="993.2" x2="283.9" y2="994.4" stroke-width="0.69" />
<line x1="280.1" y1="994.9" x2="283.9" y2="996.1" stroke-width="0.69" />
<line x1="280.1" y1="996.6" x2="283.9" y2="997.8" stroke-width="0.69" />
<line x1="280.1" y1="998.3" x2="283.9" y2="999.5" stroke-width="0.69" />
<ellipse cx="282" cy="1003" rx="5.5" ry="2.5" fill="#fff" stroke-width="1.17"/>
<path d="M277.3,1003.5 L286.7,1003.5 L286.7,1008 C284.8,1009.5 279.2,1009.5 277.3,1008 Z" fill="#fff" stroke-width="1.17"/>
<path d="M282,1004.5 L282,1009" stroke-width="0.74"/>
<line x1="288" y1="1007.5" x2="335.5" y2="1016.5" stroke-width="1.06" />
<line x1="398" y1="910" x2="398" y2="942" stroke-width="0.95" />
<rect x="395.6" y="943" width="3.8" height="14" fill="#fff" stroke-width="1.06"/>
<line x1="395.6" y1="944.5" x2="399.4" y2="945.7" stroke-width="0.69" />
<line x1="395.6" y1="946.2" x2="399.4" y2="947.4" stroke-width="0.69" />
<line x1="395.6" y1="947.9" x2="399.4" y2="949.1" stroke-width="0.69" />
<line x1="395.6" y1="949.6" x2="399.4" y2="950.8" stroke-width="0.69" />
<line x1="395.6" y1="951.3" x2="399.4" y2="952.5" stroke-width="0.69" />
<line x1="395.6" y1="953" x2="399.4" y2="954.2" stroke-width="0.69" />
<ellipse cx="397.5" cy="957" rx="5.5" ry="2.5" fill="#fff" stroke-width="1.17"/>
<path d="M392.8,957.5 L402.2,957.5 L402.2,962 C400.2,963.5 394.8,963.5 392.8,962 Z" fill="#fff" stroke-width="1.17"/>
<path d="M397.5,958.5 L397.5,963" stroke-width="0.74"/>
<line x1="403" y1="961" x2="434" y2="990" stroke-width="1.06" />
<polyline points="481.5,754.5 649,839.8 649,813.8 698.5,840.3" fill="none" stroke-width="1.06" stroke-dasharray="9 2 1.5 2"/>
<path d="M452.5,765.3 L456,764.5 L518.1,804.7 L520,812 L519,818.7 L515,818 L513.4,815 L453.4,770 Z" fill="#fff" stroke-width="1.17"/>
<path d="M454,767 L517,808" fill="none" stroke-width="1.70"/>
<path d="M455,770 L513,812" fill="none" stroke-width="0.85"/>
<path d="M475,778 L480,773 L484,775 L480,780 M492,783 L497,780 L500,783 M505,793 L508,790 L512,793 M486,786 L490,792 L500,797 M496,790 L505,805 L510,807" fill="none" stroke-width="0.95"/>
<path d="M476,777 L486,783 L493,780 L498,789 L506,795" fill="none" stroke-width="0.85"/>
<path d="M479,774 L483,772 L486,776 L482,778 Z M493,781 L497,779 L499,783 L495,785 Z M469,782 L472,780 M490,796 L494,794 M506,808 L510,806 M515,812 L519,815" fill="#fff" stroke-width="0.85"/>
<path d="M458,772 L470,781 L478,790 L490,797 L502,808 L512,816" fill="none" stroke-width="0.85"/>
<path d="M484,784 L490,795 M500,792 L506,804 M473,778 L475,786" fill="none" stroke-width="0.74"/>
<line x1="474" y1="809.4" x2="482.5" y2="793.4" stroke-width="1.06" />
<polyline points="506.5,792.5 526.2,780" fill="none" stroke-width="1.06" stroke-dasharray="3 2"/>
<path d="M483.5,737.8 L490.8,738.3 C495,741 497,743 498.1,745.6 L505.4,755 C508,758 510,760 513.75,761.25 L528.3,763.3 L542.9,764.4 C548,766 551,767 553.3,769.6 L557.5,775.8 L562.7,782.1 L561.7,787.3 L557.5,788.3 L542.9,785.2 L516.9,771.7 L504.4,765.4 L496,756 L486.7,749.8 Z" fill="#fff" stroke-width="1.22"/>
<path d="M489,741 C494,743 498,748 502,755 C507,762 512,765 518,766 L542,769 C548,771 552,774 556,780" fill="none" stroke-width="0.85"/>
<path d="M496,754 L510,768 L540,782" fill="none" stroke-width="0.85"/>
<path d="M478,742 L486,737.5 L490,749 L482,754 Z" fill="#fff" stroke-width="1.06"/>
<ellipse cx="482" cy="748.2" rx="5.3" ry="6.3" fill="#fff" stroke-width="1.27"/>
<ellipse cx="482" cy="748.5" rx="2.6" ry="3.2" fill="#000" stroke="none"/>
<ellipse cx="546.6" cy="775.8" rx="5" ry="5.5" fill="#fff" stroke-width="1.17"/>
<ellipse cx="546.6" cy="776.3" rx="2.2" ry="2.6" fill="none" stroke-width="0.95"/>
<circle cx="559" cy="785.2" r="2.6" fill="#fff" stroke-width="0.95"/>
<path d="M545,787 L552,785 L557,790 L553,797 L546,798 L544,793 Z" fill="#fff" stroke-width="1.06"/>
<ellipse cx="550.7" cy="791.5" rx="4.2" ry="4.5" fill="#fff" stroke-width="1.06"/><circle cx="550.7" cy="791.8" r="1.8" fill="none" stroke-width="0.85"/>
<line x1="552.3" y1="769.6" x2="561.1" y2="761.2" stroke-width="1.06" />
<line x1="518" y1="748" x2="505" y2="760" stroke-width="1.06" />
<g transform="translate(504.8,731.2) rotate(25)"><ellipse rx="3.5" ry="4" fill="#fff" stroke-width="1.17"/><ellipse rx="1.6" ry="1.8" fill="none" stroke-width="0.95"/></g>
<g transform="translate(521.5,720.8) rotate(-20)"><ellipse rx="4.6" ry="4" fill="#fff" stroke-width="1.17"/><ellipse rx="2" ry="1.8" fill="none" stroke-width="1.06"/><path d="M-4.6,0 L-4.2,2 C-3,4.5 3,4.5 4.2,2 L4.6,0" fill="none" stroke-width="0.95"/></g>
<polyline points="492,738 501,733" fill="none" stroke-width="1.06" stroke-dasharray="3 2"/>
<polyline points="508,728 517,723" fill="none" stroke-width="1.06" stroke-dasharray="3 2"/>
<g transform="translate(429.8,762.5) rotate(-33.9)"><rect x="0" y="-1.8" width="18.8" height="3.6" rx="0.8" fill="#fff" stroke-width="1.06"/><line x1="7.5" y1="-1.8" x2="8.9" y2="1.8" stroke-width="0.74"/><line x1="9.2" y1="-1.8" x2="10.6" y2="1.8" stroke-width="0.74"/><line x1="10.9" y1="-1.8" x2="12.3" y2="1.8" stroke-width="0.74"/><line x1="12.6" y1="-1.8" x2="14" y2="1.8" stroke-width="0.74"/><line x1="14.3" y1="-1.8" x2="15.7" y2="1.8" stroke-width="0.74"/><line x1="16" y1="-1.8" x2="17.4" y2="1.8" stroke-width="0.74"/><rect x="-4" y="-4.1" width="5" height="8.2" fill="#fff" stroke-width="1.17"/><line x1="-4" y1="0" x2="1" y2="0" stroke-width="0.74"/><ellipse cx="-4" cy="0" rx="1.8" ry="4.1" fill="#fff" stroke-width="1.17"/><ellipse cx="1.8" cy="0" rx="1.6" ry="5.0" fill="#fff" stroke-width="1.17"/></g>
<polyline points="447.2,750.4 455.3,744.3 472.9,755.1 480.8,752" fill="none" stroke-width="1.06" stroke-dasharray="9 2 1.5 2"/>
<polyline points="440.2,766.7 464.2,840 469.7,856.9 547.5,851.2 562.5,890.6" fill="none" stroke-width="1.06" stroke-dasharray="9 2 1.5 2"/>
<line x1="562" y1="785" x2="570" y2="778" stroke-width="0.95" />
<g transform="translate(574.6,772.9)"><ellipse cx="0" cy="2.4" rx="4.4" ry="2.0" fill="#fff" stroke-width="1.17"/><path d="M-3.5,-1.5 L3.5,-1.5 L3.5,2.2 C1.8,3.5 -1.8,3.5 -3.5,2.2 Z" fill="#fff" stroke-width="1.17"/><path d="M-1.3,-0.4 L-1.3,2.9 M1.3,-0.4 L1.3,2.9" stroke-width="0.74"/><ellipse cx="0" cy="-1.5" rx="3.5" ry="2.2" fill="#fff" stroke-width="1.17"/><ellipse cx="0" cy="-1.7" rx="1.8" ry="1.1" fill="none" stroke-width="1.06"/></g>
<ellipse cx="573.5" cy="790.6" rx="2" ry="2.6" fill="#fff" stroke-width="0.95"/>
<ellipse cx="564.2" cy="800" rx="2.6" ry="3.4" fill="#fff" stroke-width="1.06"/><ellipse cx="564.2" cy="800" rx="1.1" ry="1.4" fill="none" stroke-width="0.74"/>
<line x1="573" y1="815" x2="565" y2="803.5" stroke-width="1.06" />
<g transform="translate(534,827) rotate(-34.5)"><rect x="0" y="-1.8" width="20.1" height="3.6" rx="0.8" fill="#fff" stroke-width="1.06"/><line x1="8.1" y1="-1.8" x2="9.5" y2="1.8" stroke-width="0.74"/><line x1="9.8" y1="-1.8" x2="11.2" y2="1.8" stroke-width="0.74"/><line x1="11.5" y1="-1.8" x2="12.9" y2="1.8" stroke-width="0.74"/><line x1="13.2" y1="-1.8" x2="14.6" y2="1.8" stroke-width="0.74"/><line x1="14.9" y1="-1.8" x2="16.3" y2="1.8" stroke-width="0.74"/><line x1="16.6" y1="-1.8" x2="18" y2="1.8" stroke-width="0.74"/><rect x="-4" y="-4.1" width="5" height="8.2" fill="#fff" stroke-width="1.17"/><line x1="-4" y1="0" x2="1" y2="0" stroke-width="0.74"/><ellipse cx="-4" cy="0" rx="1.8" ry="4.1" fill="#fff" stroke-width="1.17"/><ellipse cx="1.8" cy="0" rx="1.6" ry="5.0" fill="#fff" stroke-width="1.17"/></g>
<polyline points="555.8,812.5 539.2,801.5 547.5,794.8" fill="none" stroke-width="1.06" stroke-dasharray="3 2"/>
<line x1="580" y1="773.5" x2="636" y2="786.4" stroke-width="1.06" />
<line x1="636" y1="786.4" x2="641.2" y2="760" stroke-width="1.06" />
<polyline points="693.3,746 693.3,792.9 709,803.3" fill="none" stroke-width="1.06" stroke-dasharray="9 2 1.5 2"/>
<line x1="668.5" y1="735.6" x2="693.3" y2="746" stroke-width="1.06" />
<g transform="translate(729,819) rotate(-52)"><ellipse rx="43" ry="26" fill="#fff" stroke-width="1.27"/><ellipse cx="-1" cy="1" rx="37" ry="21" fill="none" stroke-width="1.06"/><ellipse cx="-3" cy="3" rx="31" ry="16" fill="none" stroke-width="0.85"/><path d="M-30,-10 C-15,-20 15,-20 30,-12 M-28,-6 C-12,-15 12,-15 28,-8" fill="none" stroke-width="0.95"/><path d="M-20,-14 L-16,-6 M-12,-16 L-9,-8 M-4,-17 L-2,-9 M4,-17 L5,-9 M12,-16 L12,-8" fill="none" stroke-width="0.85"/><path d="M-34,6 C-30,14 -20,18 -8,19" fill="none" stroke-width="0.85"/></g>
<path d="M703,800 C708,796 716,796 718,803 L712,812 L706,808 Z" fill="#fff" stroke-width="1.06"/>
<ellipse cx="712.4" cy="794" rx="5" ry="4.8" fill="#fff" stroke-width="1.17"/><ellipse cx="712.4" cy="794" rx="2.4" ry="2.2" fill="none" stroke-width="0.95"/>
<path d="M702,806 C696,810 696,818 700,822 L707,818 Z M698,838 C693,844 698,852 706,851 L712,843 Z" fill="#fff" stroke-width="1.06"/>
<path d="M706,812 C704,820 703,830 705,838 M709,810 C707,820 707,830 709,840" fill="none" stroke-width="0.85"/>
<path d="M718,806 C724,800 734,800 740,806 L744,814 C740,818 732,818 726,814 Z" fill="#fff" stroke-width="1.06"/>
<path d="M722,808 L738,810 M724,812 L740,813" fill="none" stroke-width="0.74"/>
<ellipse cx="743" cy="826.8" rx="8.5" ry="9.5" transform="rotate(-40 743 826.8)" fill="#fff" stroke-width="1.27"/>
<ellipse cx="743" cy="826.8" rx="6" ry="7" transform="rotate(-40 743 826.8)" fill="none" stroke-width="1.17"/>
<ellipse cx="743.5" cy="826" rx="3.6" ry="4.4" transform="rotate(-40 743.5 826)" fill="none" stroke-width="1.06"/>
<path d="M739,830 L747,822 M740,832 L748,824" fill="none" stroke-width="0.74"/>
<path d="M749,815 L757,820" stroke-width="2.97"/>
<path d="M749,815 L757,820" stroke="#fff" stroke-width="0.85" stroke-dasharray="1 1"/>
<path d="M752,831 L760,835" stroke-width="2.97"/>
<path d="M752,831 L760,835" stroke="#fff" stroke-width="0.85" stroke-dasharray="1 1"/>
<path d="M736,838 L740,845" stroke-width="2.97"/>
<path d="M736,838 L740,845" stroke="#fff" stroke-width="0.85" stroke-dasharray="1 1"/>
<path d="M731,823 L726,818" stroke-width="2.97"/>
<path d="M731,823 L726,818" stroke="#fff" stroke-width="0.85" stroke-dasharray="1 1"/>
<path d="M718,840 C724,846 732,849 740,848 M714,846 C720,852 728,855 736,854" fill="none" stroke-width="0.85"/>
<line x1="780" y1="759" x2="755" y2="785" stroke-width="1.06" />
<polyline points="712.8,858 712.8,880" fill="none" stroke-width="1.06" stroke-dasharray="9 2 1.5 2"/>
<ellipse cx="712.8" cy="884.5" rx="5.5" ry="3.3" fill="#fff" stroke-width="1.17"/><ellipse cx="712.8" cy="884" rx="2.4" ry="1.4" fill="none" stroke-width="0.95"/>
<path d="M707.3,884.5 L708.5,888 C710,890 715.5,890 717,888 L718.3,884.5" fill="#fff" stroke-width="1.06"/>
<line x1="722" y1="882" x2="735" y2="874" stroke-width="1.06" />
<path d="M701,892.5 L723,896.5 L723,898.5 L701,895 M705,893.5 L722,897.5" fill="none" stroke-width="1.06"/>
<line x1="723" y1="898" x2="740" y2="928.5" stroke-width="1.06" />
<line x1="698.5" y1="847" x2="658" y2="890.6" stroke-width="1.06" />
<line x1="658" y1="890.6" x2="645" y2="893" stroke-width="1.06" />
<path d="M568,894.5 L634,886.5 L636,893 L570,901.5 Z" fill="#fff" stroke-width="1.17"/>
<line x1="571" y1="896.8" x2="634" y2="889" stroke-width="0.74" />
<path d="M632,884 L640,880 C645,880 648,885 644,889 L648,893 C650,897 646,900 641,898 L633,896 Z" fill="#fff" stroke-width="1.17"/>
<circle cx="641" cy="884" r="1.8" fill="none" stroke-width="0.95"/><circle cx="643.5" cy="893.5" r="1.8" fill="none" stroke-width="0.95"/>
<path d="M558,893 C560,888 566,887 570,889 L573,897 C572,902 568,904 563,903 C558,901 557,897 558,893 Z" fill="#fff" stroke-width="1.22"/>
<ellipse cx="565" cy="900.5" rx="3.2" ry="2.4" fill="#fff" stroke-width="1.06"/><ellipse cx="565" cy="900.5" rx="1.4" ry="1" fill="#000" stroke="none"/>
<line x1="595" y1="860" x2="590" y2="893" stroke-width="1.06" />
<g transform="translate(624.3,851.5) rotate(69.1)"><rect x="0" y="-1.8" width="18.7" height="3.6" rx="0.8" fill="#fff" stroke-width="1.06"/><line x1="7.5" y1="-1.8" x2="8.9" y2="1.8" stroke-width="0.74"/><line x1="9.2" y1="-1.8" x2="10.6" y2="1.8" stroke-width="0.74"/><line x1="10.9" y1="-1.8" x2="12.3" y2="1.8" stroke-width="0.74"/><line x1="12.6" y1="-1.8" x2="14" y2="1.8" stroke-width="0.74"/><line x1="14.3" y1="-1.8" x2="15.7" y2="1.8" stroke-width="0.74"/><line x1="16" y1="-1.8" x2="17.4" y2="1.8" stroke-width="0.74"/><rect x="-4" y="-3.9" width="5" height="7.8" fill="#fff" stroke-width="1.17"/><line x1="-4" y1="0" x2="1" y2="0" stroke-width="0.74"/><ellipse cx="-4" cy="0" rx="1.8" ry="3.9" fill="#fff" stroke-width="1.17"/><ellipse cx="1.8" cy="0" rx="1.6" ry="4.8" fill="#fff" stroke-width="1.17"/></g>
<polyline points="632,871 639,881" fill="none" stroke-width="1.06" stroke-dasharray="3 2"/>
<polyline points="566,905 575,925" fill="none" stroke-width="1.06" stroke-dasharray="3 2"/>
<path d="M576,926 L580,926 L580,931 L576,931 Z" fill="#fff" stroke-width="0.95"/>
<ellipse cx="578" cy="934.5" rx="6.5" ry="3.2" fill="#fff" stroke-width="1.06"/>
<ellipse cx="578" cy="934" rx="4" ry="2" fill="#fff" stroke-width="0.95"/>
<path d="M574,936 L574,939 C575,941 581,941 582,939 L582,936" fill="#fff" stroke-width="1.06"/>
<line x1="578" y1="941" x2="574" y2="999.5" stroke-width="1.06" />
<polyline points="645,896 654,917" fill="none" stroke-width="1.06" stroke-dasharray="3 2"/>
<g transform="translate(656.5,923)"><ellipse cx="0" cy="2.4" rx="4.4" ry="2.0" fill="#fff" stroke-width="1.17"/><path d="M-3.5,-1.5 L3.5,-1.5 L3.5,2.2 C1.8,3.5 -1.8,3.5 -3.5,2.2 Z" fill="#fff" stroke-width="1.17"/><path d="M-1.3,-0.4 L-1.3,2.9 M1.3,-0.4 L1.3,2.9" stroke-width="0.74"/><ellipse cx="0" cy="-1.5" rx="3.5" ry="2.2" fill="#fff" stroke-width="1.17"/><ellipse cx="0" cy="-1.7" rx="1.8" ry="1.1" fill="none" stroke-width="1.06"/></g>
<line x1="657" y1="928" x2="667.3" y2="976.5" stroke-width="1.06" />
<g transform="translate(328,384.4)"><ellipse cx="0" cy="3.0" rx="5.4" ry="2.4" fill="#fff" stroke-width="1.17"/><path d="M-4.3,-1.9 L4.3,-1.9 L4.3,2.7 C2.2,4.3 -2.2,4.3 -4.3,2.7 Z" fill="#fff" stroke-width="1.17"/><path d="M-1.6,-0.5 L-1.6,3.5 M1.6,-0.5 L1.6,3.5" stroke-width="0.74"/><ellipse cx="0" cy="-1.9" rx="4.3" ry="2.7" fill="#fff" stroke-width="1.17"/><ellipse cx="0" cy="-2.1" rx="2.2" ry="1.4" fill="none" stroke-width="1.06"/></g>
<rect x="251.9" y="357" width="3.8" height="15.5" fill="#fff" stroke-width="1.06"/>
<line x1="251.9" y1="358.5" x2="255.7" y2="359.7" stroke-width="0.69" />
<line x1="251.9" y1="360.2" x2="255.7" y2="361.4" stroke-width="0.69" />
<line x1="251.9" y1="361.9" x2="255.7" y2="363.1" stroke-width="0.69" />
<line x1="251.9" y1="363.6" x2="255.7" y2="364.8" stroke-width="0.69" />
<line x1="251.9" y1="365.3" x2="255.7" y2="366.5" stroke-width="0.69" />
<line x1="251.9" y1="367" x2="255.7" y2="368.2" stroke-width="0.69" />
<line x1="251.9" y1="368.7" x2="255.7" y2="369.9" stroke-width="0.69" />
<ellipse cx="253.8" cy="372.5" rx="5.5" ry="2.5" fill="#fff" stroke-width="1.17"/>
<path d="M249.1,373 L258.5,373 L258.5,377.5 C256.6,379 251.1,379 249.1,377.5 Z" fill="#fff" stroke-width="1.17"/>
<path d="M253.8,374 L253.8,378.5" stroke-width="0.74"/>
<use href="#xi" x="702.5" y="126"/>
<use href="#wr" x="715" y="118.5"/>
<text x="734.2" y="131.4" class="t">44.5 (4.5, 33)</text>
<use href="#xi" x="322" y="296.2"/>
<use href="#wr" x="335" y="288.8"/>
<text x="353.8" y="300.8" class="t">72.5 (7.4 , 53)</text>
<use href="#wr" x="149.2" y="379"/>
<text x="168.4" y="391.3" class="t">48.5 (4.9, 36)</text>
<use href="#wr" x="213.3" y="405"/>
<text x="231.9" y="416.8" class="t">89 (9.1, 66)</text>
<use href="#xi" x="545.2" y="436.5"/>
<use href="#wr" x="556.7" y="429.2"/>
<text x="575.8" y="441.4" class="t">108</text>
<text x="575.8" y="455.4" class="t">(11, 80)</text>
<use href="#wr" x="534.8" y="476"/>
<text x="554" y="487.3" class="t">55 (5.6, 41)</text>
<use href="#wr" x="551.3" y="617.9"/>
<text x="570.1" y="629.7" class="t">30 (3.1, 22)</text>
<use href="#xi" x="698.6" y="631.8"/>
<use href="#wr" x="710.5" y="624.9"/>
<text x="729.1" y="636.5" class="t">64.5</text>
<text x="729.1" y="650.9" class="t">(6.6, 48)</text>
<use href="#wr" x="430.3" y="631.7"/>
<text x="449.3" y="643.2" class="t">89</text>
<text x="449.3" y="656.5" class="t">(9.1, 66)</text>
<use href="#xi" x="293.8" y="662.7"/>
<use href="#wr" x="306.2" y="655.4"/>
<text x="325.7" y="667.6" class="t">108</text>
<text x="325.7" y="681.9" class="t">(11, 80)</text>
<use href="#xi" x="434.9" y="690.1"/>
<use href="#wr" x="446.4" y="683.2"/>
<text x="465.8" y="694.8" class="t">101</text>
<text x="465.8" y="708.1" class="t">(10, 74)</text>
<use href="#xi" x="597" y="795.5"/>
<use href="#wr" x="608.6" y="788.2"/>
<text x="628.2" y="800.2" class="t">105 (11, 77)</text>
<use href="#wr" x="215.2" y="792.1"/>
<text x="235.2" y="803.9" class="t">33.5 (3.4, 25)</text>
<use href="#wr" x="229.5" y="843.5"/>
<text x="248.8" y="856.2" class="t">89 (9.1, 66)</text>
<use href="#wr" x="243.2" y="876.3"/>
<text x="263" y="888.6" class="t">34.8 (3.5, 26)</text>
<use href="#wr" x="735.7" y="866.4"/>
<text x="754.5" y="877" class="t">130 (13, 96)</text>
<use href="#wrf" x="463.5" y="925.3"/>
<text x="483.8" y="937.9" class="t">6.8 (0.69, 60)</text>
<use href="#wr" x="475.3" y="957.2"/>
<text x="495" y="969.2" class="t">57.8 (5.9, 43)</text>
<use href="#wr" x="436.9" y="984.4"/>
<text x="456.6" y="996.4" class="t">30 (3.1, 22)</text>
<use href="#xi" x="628" y="985.1"/>
<use href="#wr" x="640.2" y="977.8"/>
<text x="659.2" y="989.5" class="t">105 (11, 77)</text>
<use href="#wr" x="335.7" y="1010.5"/>
<text x="356.7" y="1022.1" class="t">48.2 (4.9, 36)</text>
<use href="#wr" x="546.6" y="1003"/>
<text x="565.9" y="1015.2" class="t">93 (9.5, 69)</text>
<use href="#xi" x="763.5" y="936.7"/>
<circle cx="624.8" cy="146.5" r="7.1" fill="#fff" stroke-width="1.38"/>
<text x="624.8" y="150.7" class="cn" transform="translate(624.8,0) scale(0.85,1) translate(-624.8,0)">1</text>
<circle cx="624.7" cy="170.9" r="7.1" fill="#fff" stroke-width="1.38"/>
<text x="624.7" y="175.1" class="cn" transform="translate(624.7,0) scale(0.85,1) translate(-624.7,0)">2</text>
<circle cx="624.7" cy="196" r="7.1" fill="#fff" stroke-width="1.38"/>
<text x="624.7" y="200.2" class="cn" transform="translate(624.7,0) scale(0.85,1) translate(-624.7,0)">3</text>
<circle cx="624.7" cy="220.5" r="7.1" fill="#fff" stroke-width="1.38"/>
<text x="624.7" y="224.7" class="cn" transform="translate(624.7,0) scale(0.85,1) translate(-624.7,0)">4</text>
<circle cx="624.7" cy="245" r="7.1" fill="#fff" stroke-width="1.38"/>
<text x="624.7" y="249.2" class="cn" transform="translate(624.7,0) scale(0.85,1) translate(-624.7,0)">5</text>
<circle cx="797" cy="212.8" r="7.1" fill="#fff" stroke-width="1.38"/>
<text x="797" y="217" class="cn" transform="translate(797,0) scale(0.85,1) translate(-797,0)">6</text>
<circle cx="794" cy="348" r="7.1" fill="#fff" stroke-width="1.38"/>
<text x="794" y="352.2" class="cn" transform="translate(794,0) scale(0.85,1) translate(-794,0)">7</text>
<circle cx="691.3" cy="439.9" r="7.1" fill="#fff" stroke-width="1.38"/>
<text x="691.3" y="444.1" class="cn" transform="translate(691.3,0) scale(0.85,1) translate(-691.3,0)">8</text>
<circle cx="691.3" cy="490.6" r="7.1" fill="#fff" stroke-width="1.38"/>
<text x="691.3" y="494.8" class="cn" transform="translate(691.3,0) scale(0.85,1) translate(-691.3,0)">9</text>
<circle cx="691.3" cy="568.3" r="7.1" fill="#fff" stroke-width="1.38"/>
<text x="691.3" y="572.3" class="cn2" transform="translate(691.3,0) scale(0.62,1) translate(-691.3,0)">10</text>
<circle cx="683.7" cy="682.2" r="7.1" fill="#fff" stroke-width="1.38"/>
<text x="683.7" y="686.2" class="cn2" transform="translate(683.7,0) scale(0.62,1) translate(-683.7,0)">11</text>
<circle cx="787" cy="751.2" r="7.1" fill="#fff" stroke-width="1.38"/>
<text x="787" y="755.2" class="cn2" transform="translate(787,0) scale(0.62,1) translate(-787,0)">12</text>
<circle cx="741.8" cy="936.7" r="7.1" fill="#fff" stroke-width="1.38"/>
<text x="741.8" y="940.7" class="cn2" transform="translate(741.8,0) scale(0.62,1) translate(-741.8,0)">13</text>
<circle cx="595.6" cy="852.3" r="7.1" fill="#fff" stroke-width="1.38"/>
<text x="595.6" y="856.3" class="cn2" transform="translate(595.6,0) scale(0.62,1) translate(-595.6,0)">14</text>
<circle cx="470.4" cy="816.7" r="7.1" fill="#fff" stroke-width="1.38"/>
<text x="470.4" y="820.7" class="cn2" transform="translate(470.4,0) scale(0.62,1) translate(-470.4,0)">15</text>
<circle cx="525.6" cy="741.7" r="7.1" fill="#fff" stroke-width="1.38"/>
<text x="525.6" y="745.7" class="cn2" transform="translate(525.6,0) scale(0.62,1) translate(-525.6,0)">16</text>
<circle cx="578.3" cy="824.6" r="7.1" fill="#fff" stroke-width="1.38"/>
<text x="578.3" y="828.6" class="cn2" transform="translate(578.3,0) scale(0.62,1) translate(-578.3,0)">17</text>
<circle cx="545.6" cy="573.9" r="7.1" fill="#fff" stroke-width="1.38"/>
<text x="545.6" y="577.9" class="cn2" transform="translate(545.6,0) scale(0.62,1) translate(-545.6,0)">18</text>
<circle cx="526.2" cy="352.5" r="7.1" fill="#fff" stroke-width="1.38"/>
<text x="526.2" y="356.5" class="cn2" transform="translate(526.2,0) scale(0.62,1) translate(-526.2,0)">19</text>
<circle cx="506.2" cy="459.4" r="7.1" fill="#fff" stroke-width="1.38"/>
<text x="506.2" y="463.4" class="cn2" transform="translate(506.2,0) scale(0.62,1) translate(-506.2,0)">20</text>
<circle cx="422.5" cy="462.8" r="7.1" fill="#fff" stroke-width="1.38"/>
<text x="422.5" y="466.8" class="cn2" transform="translate(422.5,0) scale(0.62,1) translate(-422.5,0)">21</text>
<circle cx="245" cy="263" r="7.1" fill="#fff" stroke-width="1.38"/>
<text x="245" y="267" class="cn2" transform="translate(245,0) scale(0.62,1) translate(-245,0)">22</text>
<circle cx="207.9" cy="704.7" r="7.1" fill="#fff" stroke-width="1.38"/>
<text x="207.9" y="708.7" class="cn2" transform="translate(207.9,0) scale(0.62,1) translate(-207.9,0)">24</text>
<circle cx="282.4" cy="745.3" r="7.1" fill="#fff" stroke-width="1.38"/>
<text x="282.4" y="749.3" class="cn2" transform="translate(282.4,0) scale(0.62,1) translate(-282.4,0)">25</text>
<circle cx="282.4" cy="773.8" r="7.1" fill="#fff" stroke-width="1.38"/>
<text x="282.4" y="777.8" class="cn2" transform="translate(282.4,0) scale(0.62,1) translate(-282.4,0)">26</text>
<circle cx="409.2" cy="770.3" r="7.1" fill="#fff" stroke-width="1.38"/>
<text x="409.2" y="774.3" class="cn2" transform="translate(409.2,0) scale(0.62,1) translate(-409.2,0)">27</text>
<circle cx="196.6" cy="776.2" r="7.1" fill="#fff" stroke-width="1.38"/>
<text x="196.6" y="780.2" class="cn2" transform="translate(196.6,0) scale(0.62,1) translate(-196.6,0)">28</text>
<circle cx="354.2" cy="154.5" r="7.1" fill="#fff" stroke-width="1.38"/>
<text x="354.2" y="158.5" class="cn2" transform="translate(354.2,0) scale(0.62,1) translate(-354.2,0)">23</text>
<circle cx="184.5" cy="477.4" r="7.1" fill="#fff" stroke-width="1.38"/>
<text x="184.5" y="481.4" class="cn2" transform="translate(184.5,0) scale(0.62,1) translate(-184.5,0)">23</text>
</g></svg></body></html>
